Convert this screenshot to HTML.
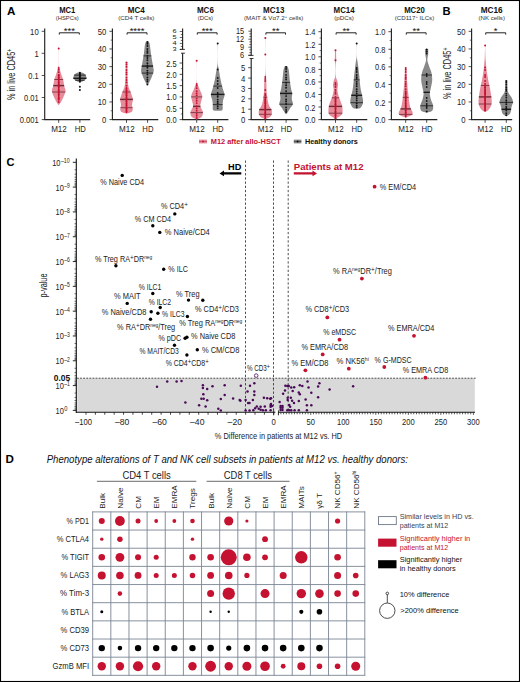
<!DOCTYPE html>
<html><head><meta charset="utf-8"><style>
html,body{margin:0;padding:0;background:#fff;}
svg{display:block;}
text{font-family:"Liberation Sans", sans-serif;}
</style></head><body>
<svg width="520" height="682" viewBox="0 0 520 682" font-family='"Liberation Sans", sans-serif'>
<rect x="0" y="0" width="520" height="682" fill="#fff"/>
<text x="6.9" y="15.1" font-size="11.6" text-anchor="start" fill="#000" font-weight="bold" >A</text>
<text x="442.4" y="15.1" font-size="11.2" text-anchor="start" fill="#000" font-weight="bold" >B</text>
<line x1="44.7" y1="28.5" x2="44.7" y2="120.1" stroke="#222" stroke-width="1.15" />
<line x1="44.2" y1="119.6" x2="90.2" y2="119.6" stroke="#222" stroke-width="1.15" />
<line x1="41.7" y1="31.3" x2="44.7" y2="31.3" stroke="#222" stroke-width="0.8" />
<text x="38.7" y="34.8" font-size="8.4" text-anchor="end" fill="#222" textLength="8.6" lengthAdjust="spacingAndGlyphs" >10</text>
<line x1="41.7" y1="53.3" x2="44.7" y2="53.3" stroke="#222" stroke-width="0.8" />
<text x="38.7" y="56.8" font-size="8.4" text-anchor="end" fill="#222" textLength="4.3" lengthAdjust="spacingAndGlyphs" >1</text>
<line x1="41.7" y1="75.5" x2="44.7" y2="75.5" stroke="#222" stroke-width="0.8" />
<text x="38.7" y="79" font-size="8.4" text-anchor="end" fill="#222" textLength="10.4" lengthAdjust="spacingAndGlyphs" >0.1</text>
<line x1="41.7" y1="97.5" x2="44.7" y2="97.5" stroke="#222" stroke-width="0.8" />
<text x="38.7" y="101" font-size="8.4" text-anchor="end" fill="#222" textLength="14.7" lengthAdjust="spacingAndGlyphs" >0.01</text>
<line x1="41.7" y1="119.6" x2="44.7" y2="119.6" stroke="#222" stroke-width="0.8" />
<text x="38.7" y="123.1" font-size="8.4" text-anchor="end" fill="#222" textLength="19" lengthAdjust="spacingAndGlyphs" >0.001</text>
<line x1="58.7" y1="119.6" x2="58.7" y2="122.8" stroke="#222" stroke-width="0.8" />
<line x1="79.9" y1="119.6" x2="79.9" y2="122.8" stroke="#222" stroke-width="0.8" />
<text x="59" y="131.6" font-size="8.2" text-anchor="middle" fill="#222" textLength="15.7" lengthAdjust="spacingAndGlyphs" >M12</text>
<text x="80.2" y="131.6" font-size="8.2" text-anchor="middle" fill="#222" textLength="11.1" lengthAdjust="spacingAndGlyphs" >HD</text>
<text x="67.3" y="12.7" font-size="8.4" text-anchor="middle" fill="#111" font-weight="bold" textLength="16.2" lengthAdjust="spacingAndGlyphs" >MC1</text>
<text x="67.3" y="19.9" font-size="5.8" text-anchor="middle" fill="#333" textLength="23" lengthAdjust="spacingAndGlyphs" >(HSPCs)</text>
<path d="M59.3,34.6 L59.3,32.8 L79.3,32.8 L79.3,34.6" fill="none" stroke="#222" stroke-width="1.0"/>
<text x="69.3" y="33.6" font-size="9.5" text-anchor="middle" fill="#111" >***</text>
<line x1="112.4" y1="28.5" x2="112.4" y2="120.1" stroke="#222" stroke-width="1.15" />
<line x1="111.9" y1="119.6" x2="158.3" y2="119.6" stroke="#222" stroke-width="1.15" />
<line x1="109.4" y1="119.6" x2="112.4" y2="119.6" stroke="#222" stroke-width="0.8" />
<text x="106.4" y="123.1" font-size="8.4" text-anchor="end" fill="#222" textLength="4.3" lengthAdjust="spacingAndGlyphs" >0</text>
<line x1="109.4" y1="101.94" x2="112.4" y2="101.94" stroke="#222" stroke-width="0.8" />
<text x="106.4" y="105.44" font-size="8.4" text-anchor="end" fill="#222" textLength="8.6" lengthAdjust="spacingAndGlyphs" >10</text>
<line x1="109.4" y1="84.28" x2="112.4" y2="84.28" stroke="#222" stroke-width="0.8" />
<text x="106.4" y="87.78" font-size="8.4" text-anchor="end" fill="#222" textLength="8.6" lengthAdjust="spacingAndGlyphs" >20</text>
<line x1="109.4" y1="66.62" x2="112.4" y2="66.62" stroke="#222" stroke-width="0.8" />
<text x="106.4" y="70.12" font-size="8.4" text-anchor="end" fill="#222" textLength="8.6" lengthAdjust="spacingAndGlyphs" >30</text>
<line x1="109.4" y1="48.96" x2="112.4" y2="48.96" stroke="#222" stroke-width="0.8" />
<text x="106.4" y="52.46" font-size="8.4" text-anchor="end" fill="#222" textLength="8.6" lengthAdjust="spacingAndGlyphs" >40</text>
<line x1="109.4" y1="31.3" x2="112.4" y2="31.3" stroke="#222" stroke-width="0.8" />
<text x="106.4" y="34.8" font-size="8.4" text-anchor="end" fill="#222" textLength="8.6" lengthAdjust="spacingAndGlyphs" >50</text>
<line x1="110.6" y1="110.77" x2="112.4" y2="110.77" stroke="#222" stroke-width="0.6" />
<line x1="110.6" y1="93.11" x2="112.4" y2="93.11" stroke="#222" stroke-width="0.6" />
<line x1="110.6" y1="75.45" x2="112.4" y2="75.45" stroke="#222" stroke-width="0.6" />
<line x1="110.6" y1="57.79" x2="112.4" y2="57.79" stroke="#222" stroke-width="0.6" />
<line x1="110.6" y1="40.13" x2="112.4" y2="40.13" stroke="#222" stroke-width="0.6" />
<line x1="126.5" y1="119.6" x2="126.5" y2="122.8" stroke="#222" stroke-width="0.8" />
<line x1="147.6" y1="119.6" x2="147.6" y2="122.8" stroke="#222" stroke-width="0.8" />
<text x="126.8" y="131.6" font-size="8.2" text-anchor="middle" fill="#222" textLength="15.7" lengthAdjust="spacingAndGlyphs" >M12</text>
<text x="147.9" y="131.6" font-size="8.2" text-anchor="middle" fill="#222" textLength="11.1" lengthAdjust="spacingAndGlyphs" >HD</text>
<text x="136.3" y="12.7" font-size="8.4" text-anchor="middle" fill="#111" font-weight="bold" textLength="17" lengthAdjust="spacingAndGlyphs" >MC4</text>
<text x="136.3" y="19.9" font-size="5.8" text-anchor="middle" fill="#333" textLength="36.2" lengthAdjust="spacingAndGlyphs" >(CD4 T cells)</text>
<path d="M127.1,34.6 L127.1,32.8 L147,32.8 L147,34.6" fill="none" stroke="#222" stroke-width="1.0"/>
<text x="137.05" y="33.6" font-size="9.5" text-anchor="middle" fill="#111" >****</text>
<line x1="182.6" y1="28.5" x2="182.6" y2="120.1" stroke="#222" stroke-width="1.15" />
<line x1="182.1" y1="119.6" x2="228.4" y2="119.6" stroke="#222" stroke-width="1.15" />
<line x1="179.6" y1="119.6" x2="182.6" y2="119.6" stroke="#222" stroke-width="0.8" />
<text x="176.6" y="123.1" font-size="8.4" text-anchor="end" fill="#222" textLength="10.4" lengthAdjust="spacingAndGlyphs" >0.0</text>
<line x1="179.6" y1="108.28" x2="182.6" y2="108.28" stroke="#222" stroke-width="0.8" />
<text x="176.6" y="111.78" font-size="8.4" text-anchor="end" fill="#222" textLength="10.4" lengthAdjust="spacingAndGlyphs" >0.5</text>
<line x1="179.6" y1="96.96" x2="182.6" y2="96.96" stroke="#222" stroke-width="0.8" />
<text x="176.6" y="100.46" font-size="8.4" text-anchor="end" fill="#222" textLength="10.4" lengthAdjust="spacingAndGlyphs" >1.0</text>
<line x1="179.6" y1="85.64" x2="182.6" y2="85.64" stroke="#222" stroke-width="0.8" />
<text x="176.6" y="89.14" font-size="8.4" text-anchor="end" fill="#222" textLength="10.4" lengthAdjust="spacingAndGlyphs" >1.5</text>
<line x1="179.6" y1="74.32" x2="182.6" y2="74.32" stroke="#222" stroke-width="0.8" />
<text x="176.6" y="77.82" font-size="8.4" text-anchor="end" fill="#222" textLength="10.4" lengthAdjust="spacingAndGlyphs" >2.0</text>
<line x1="179.6" y1="63" x2="182.6" y2="63" stroke="#222" stroke-width="0.8" />
<text x="176.6" y="66.5" font-size="8.4" text-anchor="end" fill="#222" textLength="10.4" lengthAdjust="spacingAndGlyphs" >2.5</text>
<line x1="180.8" y1="113.94" x2="182.6" y2="113.94" stroke="#222" stroke-width="0.6" />
<line x1="180.8" y1="102.62" x2="182.6" y2="102.62" stroke="#222" stroke-width="0.6" />
<line x1="180.8" y1="91.3" x2="182.6" y2="91.3" stroke="#222" stroke-width="0.6" />
<line x1="180.8" y1="79.98" x2="182.6" y2="79.98" stroke="#222" stroke-width="0.6" />
<line x1="180.8" y1="68.66" x2="182.6" y2="68.66" stroke="#222" stroke-width="0.6" />
<line x1="196.7" y1="119.6" x2="196.7" y2="122.8" stroke="#222" stroke-width="0.8" />
<line x1="217.7" y1="119.6" x2="217.7" y2="122.8" stroke="#222" stroke-width="0.8" />
<text x="197" y="131.6" font-size="8.2" text-anchor="middle" fill="#222" textLength="15.7" lengthAdjust="spacingAndGlyphs" >M12</text>
<text x="218" y="131.6" font-size="8.2" text-anchor="middle" fill="#222" textLength="11.1" lengthAdjust="spacingAndGlyphs" >HD</text>
<text x="205.4" y="12.7" font-size="8.4" text-anchor="middle" fill="#111" font-weight="bold" textLength="16.9" lengthAdjust="spacingAndGlyphs" >MC6</text>
<text x="205.4" y="19.9" font-size="5.8" text-anchor="middle" fill="#333" textLength="15.4" lengthAdjust="spacingAndGlyphs" >(DCs)</text>
<path d="M197.3,34.6 L197.3,32.8 L217.1,32.8 L217.1,34.6" fill="none" stroke="#222" stroke-width="1.0"/>
<text x="207.2" y="33.6" font-size="9.5" text-anchor="middle" fill="#111" >***</text>
<line x1="251.2" y1="28.5" x2="251.2" y2="120.1" stroke="#222" stroke-width="1.15" />
<line x1="250.7" y1="119.6" x2="298.3" y2="119.6" stroke="#222" stroke-width="1.15" />
<line x1="248.2" y1="119.6" x2="251.2" y2="119.6" stroke="#222" stroke-width="0.8" />
<text x="245.2" y="123.1" font-size="8.4" text-anchor="end" fill="#222" textLength="4.3" lengthAdjust="spacingAndGlyphs" >0</text>
<line x1="248.2" y1="109.22" x2="251.2" y2="109.22" stroke="#222" stroke-width="0.8" />
<text x="245.2" y="112.72" font-size="8.4" text-anchor="end" fill="#222" textLength="4.3" lengthAdjust="spacingAndGlyphs" >1</text>
<line x1="248.2" y1="98.84" x2="251.2" y2="98.84" stroke="#222" stroke-width="0.8" />
<text x="245.2" y="102.34" font-size="8.4" text-anchor="end" fill="#222" textLength="4.3" lengthAdjust="spacingAndGlyphs" >2</text>
<line x1="248.2" y1="88.46" x2="251.2" y2="88.46" stroke="#222" stroke-width="0.8" />
<text x="245.2" y="91.96" font-size="8.4" text-anchor="end" fill="#222" textLength="4.3" lengthAdjust="spacingAndGlyphs" >3</text>
<line x1="248.2" y1="78.08" x2="251.2" y2="78.08" stroke="#222" stroke-width="0.8" />
<text x="245.2" y="81.58" font-size="8.4" text-anchor="end" fill="#222" textLength="4.3" lengthAdjust="spacingAndGlyphs" >4</text>
<line x1="248.2" y1="67.7" x2="251.2" y2="67.7" stroke="#222" stroke-width="0.8" />
<text x="245.2" y="71.2" font-size="8.4" text-anchor="end" fill="#222" textLength="4.3" lengthAdjust="spacingAndGlyphs" >5</text>
<line x1="265.3" y1="119.6" x2="265.3" y2="122.8" stroke="#222" stroke-width="0.8" />
<line x1="286.1" y1="119.6" x2="286.1" y2="122.8" stroke="#222" stroke-width="0.8" />
<text x="265.6" y="131.6" font-size="8.2" text-anchor="middle" fill="#222" textLength="15.7" lengthAdjust="spacingAndGlyphs" >M12</text>
<text x="286.4" y="131.6" font-size="8.2" text-anchor="middle" fill="#222" textLength="11.1" lengthAdjust="spacingAndGlyphs" >HD</text>
<text x="273.7" y="12.7" font-size="8.4" text-anchor="middle" fill="#111" font-weight="bold" textLength="21.3" lengthAdjust="spacingAndGlyphs" >MC13</text>
<text x="273.7" y="19.9" font-size="5.8" text-anchor="middle" fill="#333" textLength="59.3" lengthAdjust="spacingAndGlyphs" >(MAIT &amp; Vα7.2<tspan font-size="4" baseline-shift="super">+</tspan> cells)</text>
<path d="M265.9,34.6 L265.9,32.8 L285.5,32.8 L285.5,34.6" fill="none" stroke="#222" stroke-width="1.0"/>
<text x="275.7" y="33.6" font-size="9.5" text-anchor="middle" fill="#111" >**</text>
<line x1="321.4" y1="28.5" x2="321.4" y2="120.1" stroke="#222" stroke-width="1.15" />
<line x1="320.9" y1="119.6" x2="367.3" y2="119.6" stroke="#222" stroke-width="1.15" />
<line x1="318.4" y1="119.6" x2="321.4" y2="119.6" stroke="#222" stroke-width="0.8" />
<text x="315.4" y="123.1" font-size="8.4" text-anchor="end" fill="#222" textLength="10.4" lengthAdjust="spacingAndGlyphs" >0.0</text>
<line x1="318.4" y1="107.04" x2="321.4" y2="107.04" stroke="#222" stroke-width="0.8" />
<text x="315.4" y="110.54" font-size="8.4" text-anchor="end" fill="#222" textLength="10.4" lengthAdjust="spacingAndGlyphs" >0.2</text>
<line x1="318.4" y1="94.49" x2="321.4" y2="94.49" stroke="#222" stroke-width="0.8" />
<text x="315.4" y="97.99" font-size="8.4" text-anchor="end" fill="#222" textLength="10.4" lengthAdjust="spacingAndGlyphs" >0.4</text>
<line x1="318.4" y1="81.93" x2="321.4" y2="81.93" stroke="#222" stroke-width="0.8" />
<text x="315.4" y="85.43" font-size="8.4" text-anchor="end" fill="#222" textLength="10.4" lengthAdjust="spacingAndGlyphs" >0.6</text>
<line x1="318.4" y1="69.37" x2="321.4" y2="69.37" stroke="#222" stroke-width="0.8" />
<text x="315.4" y="72.87" font-size="8.4" text-anchor="end" fill="#222" textLength="10.4" lengthAdjust="spacingAndGlyphs" >0.8</text>
<line x1="318.4" y1="56.81" x2="321.4" y2="56.81" stroke="#222" stroke-width="0.8" />
<text x="315.4" y="60.31" font-size="8.4" text-anchor="end" fill="#222" textLength="10.4" lengthAdjust="spacingAndGlyphs" >1.0</text>
<line x1="318.4" y1="44.26" x2="321.4" y2="44.26" stroke="#222" stroke-width="0.8" />
<text x="315.4" y="47.76" font-size="8.4" text-anchor="end" fill="#222" textLength="10.4" lengthAdjust="spacingAndGlyphs" >1.2</text>
<line x1="318.4" y1="31.7" x2="321.4" y2="31.7" stroke="#222" stroke-width="0.8" />
<text x="315.4" y="35.2" font-size="8.4" text-anchor="end" fill="#222" textLength="10.4" lengthAdjust="spacingAndGlyphs" >1.4</text>
<line x1="319.6" y1="113.32" x2="321.4" y2="113.32" stroke="#222" stroke-width="0.6" />
<line x1="319.6" y1="100.76" x2="321.4" y2="100.76" stroke="#222" stroke-width="0.6" />
<line x1="319.6" y1="88.21" x2="321.4" y2="88.21" stroke="#222" stroke-width="0.6" />
<line x1="319.6" y1="75.65" x2="321.4" y2="75.65" stroke="#222" stroke-width="0.6" />
<line x1="319.6" y1="63.09" x2="321.4" y2="63.09" stroke="#222" stroke-width="0.6" />
<line x1="319.6" y1="50.54" x2="321.4" y2="50.54" stroke="#222" stroke-width="0.6" />
<line x1="319.6" y1="37.98" x2="321.4" y2="37.98" stroke="#222" stroke-width="0.6" />
<line x1="335.5" y1="119.6" x2="335.5" y2="122.8" stroke="#222" stroke-width="0.8" />
<line x1="356.7" y1="119.6" x2="356.7" y2="122.8" stroke="#222" stroke-width="0.8" />
<text x="335.8" y="131.6" font-size="8.2" text-anchor="middle" fill="#222" textLength="15.7" lengthAdjust="spacingAndGlyphs" >M12</text>
<text x="357" y="131.6" font-size="8.2" text-anchor="middle" fill="#222" textLength="11.1" lengthAdjust="spacingAndGlyphs" >HD</text>
<text x="344.1" y="12.7" font-size="8.4" text-anchor="middle" fill="#111" font-weight="bold" textLength="21.1" lengthAdjust="spacingAndGlyphs" >MC14</text>
<text x="344.1" y="19.9" font-size="5.8" text-anchor="middle" fill="#333" textLength="19.6" lengthAdjust="spacingAndGlyphs" >(pDCs)</text>
<path d="M336.1,34.6 L336.1,32.8 L356.1,32.8 L356.1,34.6" fill="none" stroke="#222" stroke-width="1.0"/>
<text x="346.1" y="33.6" font-size="9.5" text-anchor="middle" fill="#111" >**</text>
<line x1="391.4" y1="28.5" x2="391.4" y2="120.1" stroke="#222" stroke-width="1.15" />
<line x1="390.9" y1="119.6" x2="437.3" y2="119.6" stroke="#222" stroke-width="1.15" />
<line x1="388.4" y1="119.6" x2="391.4" y2="119.6" stroke="#222" stroke-width="0.8" />
<text x="385.4" y="123.1" font-size="8.4" text-anchor="end" fill="#222" textLength="10.4" lengthAdjust="spacingAndGlyphs" >0.0</text>
<line x1="388.4" y1="102.02" x2="391.4" y2="102.02" stroke="#222" stroke-width="0.8" />
<text x="385.4" y="105.52" font-size="8.4" text-anchor="end" fill="#222" textLength="10.4" lengthAdjust="spacingAndGlyphs" >0.2</text>
<line x1="388.4" y1="84.44" x2="391.4" y2="84.44" stroke="#222" stroke-width="0.8" />
<text x="385.4" y="87.94" font-size="8.4" text-anchor="end" fill="#222" textLength="10.4" lengthAdjust="spacingAndGlyphs" >0.4</text>
<line x1="388.4" y1="66.86" x2="391.4" y2="66.86" stroke="#222" stroke-width="0.8" />
<text x="385.4" y="70.36" font-size="8.4" text-anchor="end" fill="#222" textLength="10.4" lengthAdjust="spacingAndGlyphs" >0.6</text>
<line x1="388.4" y1="49.28" x2="391.4" y2="49.28" stroke="#222" stroke-width="0.8" />
<text x="385.4" y="52.78" font-size="8.4" text-anchor="end" fill="#222" textLength="10.4" lengthAdjust="spacingAndGlyphs" >0.8</text>
<line x1="388.4" y1="31.7" x2="391.4" y2="31.7" stroke="#222" stroke-width="0.8" />
<text x="385.4" y="35.2" font-size="8.4" text-anchor="end" fill="#222" textLength="10.4" lengthAdjust="spacingAndGlyphs" >1.0</text>
<line x1="389.6" y1="110.81" x2="391.4" y2="110.81" stroke="#222" stroke-width="0.6" />
<line x1="389.6" y1="93.23" x2="391.4" y2="93.23" stroke="#222" stroke-width="0.6" />
<line x1="389.6" y1="75.65" x2="391.4" y2="75.65" stroke="#222" stroke-width="0.6" />
<line x1="389.6" y1="58.07" x2="391.4" y2="58.07" stroke="#222" stroke-width="0.6" />
<line x1="389.6" y1="40.49" x2="391.4" y2="40.49" stroke="#222" stroke-width="0.6" />
<line x1="405.7" y1="119.6" x2="405.7" y2="122.8" stroke="#222" stroke-width="0.8" />
<line x1="426.7" y1="119.6" x2="426.7" y2="122.8" stroke="#222" stroke-width="0.8" />
<text x="406" y="131.6" font-size="8.2" text-anchor="middle" fill="#222" textLength="15.7" lengthAdjust="spacingAndGlyphs" >M12</text>
<text x="427" y="131.6" font-size="8.2" text-anchor="middle" fill="#222" textLength="11.1" lengthAdjust="spacingAndGlyphs" >HD</text>
<text x="414.5" y="12.7" font-size="8.4" text-anchor="middle" fill="#111" font-weight="bold" textLength="20.6" lengthAdjust="spacingAndGlyphs" >MC20</text>
<text x="414.5" y="19.9" font-size="5.8" text-anchor="middle" fill="#333" textLength="39.4" lengthAdjust="spacingAndGlyphs" >(CD117<tspan font-size="4" baseline-shift="super">+</tspan> ILCs)</text>
<path d="M406.3,34.6 L406.3,32.8 L426.1,32.8 L426.1,34.6" fill="none" stroke="#222" stroke-width="1.0"/>
<text x="416.2" y="33.6" font-size="9.5" text-anchor="middle" fill="#111" >**</text>
<line x1="471.6" y1="28.5" x2="471.6" y2="120.1" stroke="#222" stroke-width="1.15" />
<line x1="471.1" y1="119.6" x2="512.2" y2="119.6" stroke="#222" stroke-width="1.15" />
<line x1="468.6" y1="119.6" x2="471.6" y2="119.6" stroke="#222" stroke-width="0.8" />
<text x="465.6" y="123.1" font-size="8.4" text-anchor="end" fill="#222" textLength="4.3" lengthAdjust="spacingAndGlyphs" >0</text>
<line x1="468.6" y1="101.94" x2="471.6" y2="101.94" stroke="#222" stroke-width="0.8" />
<text x="465.6" y="105.44" font-size="8.4" text-anchor="end" fill="#222" textLength="8.6" lengthAdjust="spacingAndGlyphs" >10</text>
<line x1="468.6" y1="84.28" x2="471.6" y2="84.28" stroke="#222" stroke-width="0.8" />
<text x="465.6" y="87.78" font-size="8.4" text-anchor="end" fill="#222" textLength="8.6" lengthAdjust="spacingAndGlyphs" >20</text>
<line x1="468.6" y1="66.62" x2="471.6" y2="66.62" stroke="#222" stroke-width="0.8" />
<text x="465.6" y="70.12" font-size="8.4" text-anchor="end" fill="#222" textLength="8.6" lengthAdjust="spacingAndGlyphs" >30</text>
<line x1="468.6" y1="48.96" x2="471.6" y2="48.96" stroke="#222" stroke-width="0.8" />
<text x="465.6" y="52.46" font-size="8.4" text-anchor="end" fill="#222" textLength="8.6" lengthAdjust="spacingAndGlyphs" >40</text>
<line x1="468.6" y1="31.3" x2="471.6" y2="31.3" stroke="#222" stroke-width="0.8" />
<text x="465.6" y="34.8" font-size="8.4" text-anchor="end" fill="#222" textLength="8.6" lengthAdjust="spacingAndGlyphs" >50</text>
<line x1="469.8" y1="110.77" x2="471.6" y2="110.77" stroke="#222" stroke-width="0.6" />
<line x1="469.8" y1="93.11" x2="471.6" y2="93.11" stroke="#222" stroke-width="0.6" />
<line x1="469.8" y1="75.45" x2="471.6" y2="75.45" stroke="#222" stroke-width="0.6" />
<line x1="469.8" y1="57.79" x2="471.6" y2="57.79" stroke="#222" stroke-width="0.6" />
<line x1="469.8" y1="40.13" x2="471.6" y2="40.13" stroke="#222" stroke-width="0.6" />
<line x1="485.1" y1="119.6" x2="485.1" y2="122.8" stroke="#222" stroke-width="0.8" />
<line x1="506.3" y1="119.6" x2="506.3" y2="122.8" stroke="#222" stroke-width="0.8" />
<text x="485.4" y="131.6" font-size="8.2" text-anchor="middle" fill="#222" textLength="15.7" lengthAdjust="spacingAndGlyphs" >M12</text>
<text x="506.6" y="131.6" font-size="8.2" text-anchor="middle" fill="#222" textLength="11.1" lengthAdjust="spacingAndGlyphs" >HD</text>
<text x="491.7" y="12.7" font-size="8.4" text-anchor="middle" fill="#111" font-weight="bold" textLength="21.9" lengthAdjust="spacingAndGlyphs" >MC16</text>
<text x="491.7" y="19.9" font-size="5.8" text-anchor="middle" fill="#333" textLength="26.5" lengthAdjust="spacingAndGlyphs" >(NK cells)</text>
<path d="M485.7,34.6 L485.7,32.8 L505.7,32.8 L505.7,34.6" fill="none" stroke="#222" stroke-width="1.0"/>
<text x="495.7" y="33.6" font-size="9.5" text-anchor="middle" fill="#111" >*</text>
<text transform="translate(14.8,74.4) rotate(-90)" font-size="10" text-anchor="middle" fill="#222" textLength="51.3" lengthAdjust="spacingAndGlyphs">% in live CD45<tspan font-size="7" baseline-shift="super">+</tspan></text>
<text transform="translate(450.8,73.3) rotate(-90)" font-size="10" text-anchor="middle" fill="#222" textLength="51.5" lengthAdjust="spacingAndGlyphs">% in live CD45<tspan font-size="7" baseline-shift="super">+</tspan></text>
<rect x="180.6" y="49.4" width="4" height="3.8" fill="#fff"/>
<line x1="179.8" y1="49.4" x2="184.9" y2="49.4" stroke="#222" stroke-width="0.9" />
<line x1="181" y1="53.2" x2="184.9" y2="53.2" stroke="#222" stroke-width="0.9" />
<line x1="179.8" y1="31.5" x2="182.6" y2="31.5" stroke="#222" stroke-width="0.7" />
<text transform="translate(176.6,33.25) scale(1,0.68)" font-size="7.4" text-anchor="end" fill="#222">6</text>
<line x1="180.8" y1="34.48" x2="182.6" y2="34.48" stroke="#222" stroke-width="0.7" />
<line x1="179.8" y1="37.47" x2="182.6" y2="37.47" stroke="#222" stroke-width="0.7" />
<text transform="translate(176.6,39.22) scale(1,0.68)" font-size="7.4" text-anchor="end" fill="#222">5</text>
<line x1="180.8" y1="40.45" x2="182.6" y2="40.45" stroke="#222" stroke-width="0.7" />
<line x1="179.8" y1="43.43" x2="182.6" y2="43.43" stroke="#222" stroke-width="0.7" />
<text transform="translate(176.6,45.18) scale(1,0.68)" font-size="7.4" text-anchor="end" fill="#222">4</text>
<line x1="180.8" y1="46.42" x2="182.6" y2="46.42" stroke="#222" stroke-width="0.7" />
<line x1="179.8" y1="49.4" x2="182.6" y2="49.4" stroke="#222" stroke-width="0.7" />
<text transform="translate(176.6,51.15) scale(1,0.68)" font-size="7.4" text-anchor="end" fill="#222">3</text>
<rect x="249.2" y="55.4" width="4" height="3.1" fill="#fff"/>
<line x1="248.4" y1="55.4" x2="253.5" y2="55.4" stroke="#222" stroke-width="0.9" />
<line x1="249.6" y1="58.5" x2="253.5" y2="58.5" stroke="#222" stroke-width="0.9" />
<line x1="248.4" y1="31.2" x2="251.2" y2="31.2" stroke="#222" stroke-width="0.7" />
<text x="244.1" y="33.9" font-size="8.4" text-anchor="end" fill="#222" textLength="8.2" lengthAdjust="spacingAndGlyphs" >15</text>
<line x1="249.4" y1="33.87" x2="251.2" y2="33.87" stroke="#222" stroke-width="0.7" />
<line x1="249.4" y1="36.53" x2="251.2" y2="36.53" stroke="#222" stroke-width="0.7" />
<line x1="248.4" y1="39.2" x2="251.2" y2="39.2" stroke="#222" stroke-width="0.7" />
<text x="244.1" y="41.9" font-size="8.4" text-anchor="end" fill="#222" textLength="8.2" lengthAdjust="spacingAndGlyphs" >12</text>
<line x1="249.4" y1="41.87" x2="251.2" y2="41.87" stroke="#222" stroke-width="0.7" />
<line x1="249.4" y1="44.53" x2="251.2" y2="44.53" stroke="#222" stroke-width="0.7" />
<line x1="248.4" y1="47.2" x2="251.2" y2="47.2" stroke="#222" stroke-width="0.7" />
<text x="244.1" y="49.9" font-size="8.4" text-anchor="end" fill="#222" textLength="4.1" lengthAdjust="spacingAndGlyphs" >9</text>
<line x1="249.4" y1="49.87" x2="251.2" y2="49.87" stroke="#222" stroke-width="0.7" />
<line x1="249.4" y1="52.53" x2="251.2" y2="52.53" stroke="#222" stroke-width="0.7" />
<line x1="248.4" y1="55.2" x2="251.2" y2="55.2" stroke="#222" stroke-width="0.7" />
<text x="244.1" y="57.9" font-size="8.4" text-anchor="end" fill="#222" textLength="4.1" lengthAdjust="spacingAndGlyphs" >6</text>
<path d="M58.1,48.5 L58.16,48.51 L58.24,48.39 L58.34,48.31 L58.44,48.44 L58.52,48.95 L58.58,50 L58.61,51.87 L58.63,54.48 L58.63,57.47 L58.63,60.46 L58.61,63.1 L58.58,65 L58.55,66.05 L58.52,66.5 L58.48,66.59 L58.42,66.56 L58.33,66.61 L58.2,67 L58.03,67.69 L57.82,68.5 L57.58,69.41 L57.32,70.39 L57.02,71.43 L56.7,72.5 L56.32,73.65 L55.89,74.91 L55.42,76.22 L54.96,77.54 L54.54,78.81 L54.2,80 L53.95,81.1 L53.77,82.15 L53.62,83.16 L53.5,84.13 L53.37,85.08 L53.2,86 L52.96,86.87 L52.66,87.69 L52.34,88.47 L52.08,89.26 L51.91,90.09 L51.9,91 L52.07,92.01 L52.39,93.11 L52.81,94.25 L53.29,95.39 L53.76,96.49 L54.2,97.5 L54.61,98.45 L55.04,99.36 L55.47,100.24 L55.9,101.06 L56.31,101.82 L56.7,102.5 L57.09,103.11 L57.48,103.67 L57.86,104.16 L58.2,104.59 L58.49,104.93 L58.7,105.2 L58.7,105.2 L58.91,104.93 L59.2,104.59 L59.54,104.16 L59.92,103.67 L60.31,103.11 L60.7,102.5 L61.09,101.82 L61.5,101.06 L61.93,100.24 L62.36,99.36 L62.79,98.45 L63.2,97.5 L63.64,96.49 L64.11,95.39 L64.59,94.25 L65.01,93.11 L65.33,92.01 L65.5,91 L65.49,90.09 L65.32,89.26 L65.06,88.47 L64.74,87.69 L64.44,86.87 L64.2,86 L64.03,85.08 L63.9,84.13 L63.78,83.16 L63.63,82.15 L63.45,81.1 L63.2,80 L62.86,78.81 L62.44,77.54 L61.98,76.22 L61.51,74.91 L61.08,73.65 L60.7,72.5 L60.38,71.43 L60.08,70.39 L59.82,69.41 L59.58,68.5 L59.37,67.69 L59.2,67 L59.07,66.61 L58.98,66.56 L58.92,66.59 L58.88,66.5 L58.85,66.05 L58.82,65 L58.79,63.1 L58.77,60.46 L58.77,57.47 L58.77,54.48 L58.79,51.87 L58.82,50 L58.88,48.95 L58.96,48.44 L59.06,48.31 L59.16,48.39 L59.24,48.51 L59.3,48.5 Z" fill="#e68b9a"/>
<line x1="54.2" y1="79.5" x2="63.2" y2="79.5" stroke="#6b2a33" stroke-width="0.8" />
<line x1="53.2" y1="85.6" x2="64.2" y2="85.6" stroke="#6b2a33" stroke-width="1.4" />
<line x1="52.07" y1="92" x2="65.33" y2="92" stroke="#6b2a33" stroke-width="0.8" />
<line x1="58.7" y1="74" x2="58.7" y2="100" stroke="#c41230" stroke-width="1.5" />
<circle cx="58.7" cy="48.5" r="1" fill="#c41230" />
<circle cx="58.7" cy="68" r="0.95" fill="#c41230" />
<circle cx="58.7" cy="69.84" r="0.95" fill="#c41230" />
<circle cx="58.7" cy="72.14" r="0.95" fill="#c41230" />
<circle cx="58.7" cy="75.25" r="0.95" fill="#c41230" />
<circle cx="58.7" cy="77.55" r="0.95" fill="#c41230" />
<circle cx="58.7" cy="79.39" r="0.95" fill="#c41230" />
<circle cx="58.7" cy="82.49" r="0.95" fill="#c41230" />
<circle cx="58.7" cy="84.79" r="0.95" fill="#c41230" />
<circle cx="58.7" cy="87.09" r="0.95" fill="#c41230" />
<circle cx="58.7" cy="90.2" r="0.95" fill="#c41230" />
<circle cx="58.7" cy="92.5" r="0.95" fill="#c41230" />
<circle cx="58.7" cy="94.8" r="0.95" fill="#c41230" />
<circle cx="58.7" cy="97.9" r="0.95" fill="#c41230" />
<circle cx="58.7" cy="99.74" r="0.95" fill="#c41230" />
<circle cx="58.7" cy="102.04" r="0.95" fill="#c41230" />
<path d="M79.9,72.2 L79.68,72.24 L79.39,72.29 L79.04,72.34 L78.66,72.41 L78.27,72.5 L77.9,72.6 L77.54,72.71 L77.16,72.84 L76.78,72.98 L76.4,73.14 L76.03,73.31 L75.7,73.5 L75.39,73.71 L75.09,73.94 L74.8,74.18 L74.54,74.44 L74.3,74.71 L74.1,75 L73.94,75.31 L73.81,75.65 L73.71,76 L73.63,76.35 L73.56,76.69 L73.5,77 L73.44,77.28 L73.37,77.54 L73.32,77.78 L73.3,78.02 L73.32,78.26 L73.4,78.5 L73.55,78.75 L73.76,79.01 L74.02,79.26 L74.3,79.51 L74.6,79.76 L74.9,80 L75.19,80.23 L75.49,80.46 L75.81,80.69 L76.14,80.9 L76.5,81.11 L76.9,81.3 L77.38,81.48 L77.94,81.66 L78.53,81.83 L79.09,81.98 L79.56,82.11 L79.9,82.2 L79.9,82.2 L80.24,82.11 L80.71,81.98 L81.28,81.83 L81.86,81.66 L82.42,81.48 L82.9,81.3 L83.3,81.11 L83.66,80.9 L83.99,80.69 L84.31,80.46 L84.61,80.23 L84.9,80 L85.2,79.76 L85.5,79.51 L85.78,79.26 L86.04,79.01 L86.25,78.75 L86.4,78.5 L86.48,78.26 L86.5,78.02 L86.48,77.78 L86.43,77.54 L86.36,77.28 L86.3,77 L86.24,76.69 L86.17,76.35 L86.09,76 L85.99,75.65 L85.86,75.31 L85.7,75 L85.5,74.71 L85.26,74.44 L85,74.18 L84.71,73.94 L84.41,73.71 L84.1,73.5 L83.77,73.31 L83.4,73.14 L83.03,72.98 L82.64,72.84 L82.26,72.71 L81.9,72.6 L81.53,72.5 L81.14,72.41 L80.76,72.34 L80.41,72.29 L80.12,72.24 L79.9,72.2 Z" fill="#888888"/>
<line x1="74.1" y1="75.1" x2="85.7" y2="75.1" stroke="#1a1a1a" stroke-width="0.8" />
<line x1="73.32" y1="78.3" x2="86.48" y2="78.3" stroke="#1a1a1a" stroke-width="1.4" />
<line x1="75.19" y1="80.3" x2="84.61" y2="80.3" stroke="#1a1a1a" stroke-width="0.8" />
<circle cx="79.9" cy="72.8" r="1" fill="#111" />
<circle cx="79.9" cy="73.8" r="1" fill="#111" />
<circle cx="79.9" cy="74.8" r="1" fill="#111" />
<circle cx="79.9" cy="75.8" r="1" fill="#111" />
<circle cx="79.9" cy="76.8" r="1" fill="#111" />
<circle cx="79.9" cy="77.8" r="1" fill="#111" />
<circle cx="79.9" cy="78.8" r="1" fill="#111" />
<circle cx="79.9" cy="79.8" r="1" fill="#111" />
<circle cx="79.9" cy="80.8" r="1" fill="#111" />
<circle cx="79.9" cy="81.8" r="1" fill="#111" />
<circle cx="79.9" cy="86.7" r="1" fill="#111" />
<circle cx="79.9" cy="89.9" r="1" fill="#111" />
<path d="M125.6,62 L125.59,62.86 L125.57,64.05 L125.56,65.46 L125.54,66.99 L125.52,68.53 L125.5,70 L125.49,71.42 L125.49,72.9 L125.49,74.39 L125.48,75.87 L125.45,77.32 L125.4,78.7 L125.33,80.04 L125.24,81.36 L125.13,82.64 L125.01,83.87 L124.85,85.03 L124.65,86.1 L124.4,87.06 L124.11,87.91 L123.79,88.7 L123.45,89.45 L123.12,90.21 L122.8,91 L122.49,91.84 L122.16,92.71 L121.84,93.57 L121.53,94.43 L121.25,95.24 L121,96 L120.78,96.68 L120.57,97.29 L120.38,97.86 L120.23,98.43 L120.14,99.03 L120.1,99.7 L120.16,100.45 L120.33,101.24 L120.54,102.07 L120.75,102.92 L120.92,103.77 L121,104.6 L120.95,105.44 L120.81,106.32 L120.62,107.2 L120.44,108.04 L120.32,108.82 L120.3,109.5 L120.36,110.06 L120.45,110.54 L120.6,110.94 L120.83,111.31 L121.15,111.65 L121.6,112 L122.27,112.36 L123.15,112.72 L124.13,113.06 L125.1,113.36 L125.93,113.61 L126.5,113.8 L126.5,113.8 L127.07,113.61 L127.9,113.36 L128.87,113.06 L129.85,112.72 L130.73,112.36 L131.4,112 L131.85,111.65 L132.17,111.31 L132.4,110.94 L132.55,110.54 L132.64,110.06 L132.7,109.5 L132.68,108.82 L132.56,108.04 L132.38,107.2 L132.19,106.32 L132.05,105.44 L132,104.6 L132.08,103.77 L132.25,102.92 L132.46,102.07 L132.67,101.24 L132.84,100.45 L132.9,99.7 L132.86,99.03 L132.77,98.43 L132.62,97.86 L132.43,97.29 L132.22,96.68 L132,96 L131.75,95.24 L131.47,94.43 L131.16,93.57 L130.84,92.71 L130.51,91.84 L130.2,91 L129.88,90.21 L129.55,89.45 L129.21,88.7 L128.89,87.91 L128.6,87.06 L128.35,86.1 L128.15,85.03 L127.99,83.87 L127.87,82.64 L127.76,81.36 L127.67,80.04 L127.6,78.7 L127.55,77.32 L127.52,75.87 L127.51,74.39 L127.51,72.9 L127.51,71.42 L127.5,70 L127.48,68.53 L127.46,66.99 L127.44,65.46 L127.43,64.05 L127.41,62.86 L127.4,62 Z" fill="#e68b9a"/>
<line x1="122.49" y1="92" x2="130.51" y2="92" stroke="#6b2a33" stroke-width="0.8" />
<line x1="120.1" y1="99.4" x2="132.9" y2="99.4" stroke="#6b2a33" stroke-width="1.4" />
<line x1="120.44" y1="107.7" x2="132.56" y2="107.7" stroke="#6b2a33" stroke-width="0.8" />
<line x1="126.5" y1="88" x2="126.5" y2="113" stroke="#c41230" stroke-width="1.5" />
<circle cx="126.5" cy="62.5" r="0.95" fill="#c41230" />
<circle cx="126.5" cy="64.42" r="0.95" fill="#c41230" />
<circle cx="126.5" cy="66.82" r="0.95" fill="#c41230" />
<circle cx="126.5" cy="70.06" r="0.95" fill="#c41230" />
<circle cx="126.5" cy="72.46" r="0.95" fill="#c41230" />
<circle cx="126.5" cy="74.38" r="0.95" fill="#c41230" />
<circle cx="126.5" cy="77.62" r="0.95" fill="#c41230" />
<circle cx="126.5" cy="80.02" r="0.95" fill="#c41230" />
<circle cx="126.5" cy="82.42" r="0.95" fill="#c41230" />
<circle cx="126.5" cy="85.66" r="0.95" fill="#c41230" />
<circle cx="126.5" cy="88.06" r="0.95" fill="#c41230" />
<circle cx="126.5" cy="90.46" r="0.95" fill="#c41230" />
<circle cx="126.5" cy="93.7" r="0.95" fill="#c41230" />
<circle cx="126.5" cy="95.62" r="0.95" fill="#c41230" />
<circle cx="126.5" cy="98.02" r="0.95" fill="#c41230" />
<circle cx="126.5" cy="101.26" r="0.95" fill="#c41230" />
<circle cx="126.5" cy="103.66" r="0.95" fill="#c41230" />
<circle cx="126.5" cy="105.58" r="0.95" fill="#c41230" />
<circle cx="126.5" cy="108.82" r="0.95" fill="#c41230" />
<circle cx="126.5" cy="111.22" r="0.95" fill="#c41230" />
<path d="M146.6,41.3 L146.49,41.41 L146.33,41.53 L146.15,41.69 L145.96,41.9 L145.77,42.16 L145.6,42.5 L145.46,42.89 L145.32,43.31 L145.19,43.79 L145.06,44.36 L144.93,45.02 L144.8,45.8 L144.67,46.74 L144.54,47.83 L144.42,49.02 L144.29,50.27 L144.15,51.51 L144,52.7 L143.84,53.85 L143.66,55 L143.47,56.15 L143.29,57.3 L143.09,58.45 L142.9,59.6 L142.7,60.78 L142.49,61.99 L142.27,63.2 L142.06,64.38 L141.87,65.49 L141.7,66.5 L141.54,67.39 L141.38,68.17 L141.23,68.88 L141.12,69.57 L141.07,70.26 L141.1,71 L141.22,71.78 L141.43,72.59 L141.69,73.39 L141.99,74.2 L142.3,75.01 L142.6,75.8 L142.91,76.59 L143.24,77.39 L143.58,78.18 L143.93,78.95 L144.27,79.69 L144.6,80.4 L144.92,81.09 L145.24,81.77 L145.56,82.42 L145.87,83.02 L146.15,83.56 L146.4,84 L146.62,84.34 L146.83,84.59 L147.01,84.78 L147.17,84.91 L147.3,85.01 L147.4,85.1 L147.4,85.1 L147.5,85.01 L147.63,84.91 L147.79,84.78 L147.97,84.59 L148.18,84.34 L148.4,84 L148.65,83.56 L148.93,83.02 L149.24,82.42 L149.56,81.77 L149.88,81.09 L150.2,80.4 L150.53,79.69 L150.87,78.95 L151.22,78.18 L151.56,77.39 L151.89,76.59 L152.2,75.8 L152.5,75.01 L152.81,74.2 L153.11,73.39 L153.37,72.59 L153.58,71.78 L153.7,71 L153.73,70.26 L153.68,69.57 L153.57,68.88 L153.42,68.17 L153.26,67.39 L153.1,66.5 L152.93,65.49 L152.74,64.38 L152.53,63.2 L152.31,61.99 L152.1,60.78 L151.9,59.6 L151.71,58.45 L151.51,57.3 L151.33,56.15 L151.14,55 L150.96,53.85 L150.8,52.7 L150.65,51.51 L150.51,50.27 L150.38,49.02 L150.26,47.83 L150.13,46.74 L150,45.8 L149.87,45.02 L149.74,44.36 L149.61,43.79 L149.48,43.31 L149.34,42.89 L149.2,42.5 L149.03,42.16 L148.84,41.9 L148.65,41.69 L148.47,41.53 L148.31,41.41 L148.2,41.3 Z" fill="#888888"/>
<line x1="143.47" y1="55.9" x2="151.33" y2="55.9" stroke="#1a1a1a" stroke-width="0.8" />
<line x1="141.7" y1="66.1" x2="153.1" y2="66.1" stroke="#1a1a1a" stroke-width="1.4" />
<line x1="141.69" y1="73.1" x2="153.11" y2="73.1" stroke="#1a1a1a" stroke-width="0.8" />
<circle cx="147.4" cy="42" r="0.95" fill="#111" />
<circle cx="147.4" cy="43.76" r="0.95" fill="#111" />
<circle cx="147.4" cy="45.96" r="0.95" fill="#111" />
<circle cx="147.4" cy="48.93" r="0.95" fill="#111" />
<circle cx="147.4" cy="51.13" r="0.95" fill="#111" />
<circle cx="147.4" cy="52.89" r="0.95" fill="#111" />
<circle cx="147.4" cy="55.86" r="0.95" fill="#111" />
<circle cx="147.4" cy="58.06" r="0.95" fill="#111" />
<circle cx="147.4" cy="60.26" r="0.95" fill="#111" />
<circle cx="147.4" cy="63.23" r="0.95" fill="#111" />
<circle cx="147.4" cy="65.43" r="0.95" fill="#111" />
<circle cx="147.4" cy="67.63" r="0.95" fill="#111" />
<circle cx="147.4" cy="70.6" r="0.95" fill="#111" />
<circle cx="147.4" cy="72.36" r="0.95" fill="#111" />
<circle cx="147.4" cy="74.56" r="0.95" fill="#111" />
<circle cx="147.4" cy="77.53" r="0.95" fill="#111" />
<circle cx="147.4" cy="79.73" r="0.95" fill="#111" />
<circle cx="147.4" cy="81.49" r="0.95" fill="#111" />
<circle cx="147.4" cy="84.46" r="0.95" fill="#111" />
<path d="M196.1,60.8 L196.16,60.72 L196.24,60.44 L196.34,60.2 L196.44,60.22 L196.52,60.74 L196.58,62 L196.62,64.34 L196.66,67.64 L196.68,71.44 L196.68,75.28 L196.65,78.69 L196.58,81.2 L196.47,82.7 L196.33,83.54 L196.16,83.94 L195.96,84.15 L195.74,84.39 L195.5,84.9 L195.24,85.63 L194.95,86.4 L194.63,87.19 L194.3,88.03 L193.96,88.89 L193.6,89.8 L193.19,90.76 L192.7,91.77 L192.21,92.82 L191.75,93.89 L191.4,94.96 L191.2,96 L191.2,97.04 L191.36,98.11 L191.61,99.17 L191.91,100.2 L192.19,101.19 L192.4,102.1 L192.57,102.91 L192.76,103.62 L192.93,104.28 L193.05,104.94 L193.09,105.63 L193,106.4 L192.72,107.27 L192.26,108.2 L191.71,109.16 L191.17,110.14 L190.73,111.09 L190.5,112 L190.46,112.88 L190.52,113.77 L190.69,114.64 L190.96,115.47 L191.33,116.23 L191.8,116.9 L192.47,117.48 L193.35,118 L194.33,118.46 L195.3,118.84 L196.13,119.16 L196.7,119.4 L196.7,119.4 L197.27,119.16 L198.1,118.84 L199.07,118.46 L200.05,118 L200.93,117.48 L201.6,116.9 L202.07,116.23 L202.44,115.47 L202.71,114.64 L202.88,113.77 L202.94,112.88 L202.9,112 L202.67,111.09 L202.23,110.14 L201.69,109.16 L201.14,108.2 L200.68,107.27 L200.4,106.4 L200.31,105.63 L200.35,104.94 L200.47,104.28 L200.64,103.62 L200.83,102.91 L201,102.1 L201.21,101.19 L201.49,100.2 L201.79,99.17 L202.04,98.11 L202.2,97.04 L202.2,96 L202,94.96 L201.65,93.89 L201.19,92.82 L200.7,91.77 L200.21,90.76 L199.8,89.8 L199.44,88.89 L199.1,88.03 L198.77,87.19 L198.45,86.4 L198.16,85.63 L197.9,84.9 L197.66,84.39 L197.44,84.15 L197.24,83.94 L197.07,83.54 L196.93,82.7 L196.82,81.2 L196.75,78.69 L196.72,75.28 L196.72,71.44 L196.74,67.64 L196.78,64.34 L196.82,62 L196.88,60.74 L196.96,60.22 L197.06,60.2 L197.16,60.44 L197.24,60.72 L197.3,60.8 Z" fill="#e68b9a"/>
<line x1="191.2" y1="96.9" x2="202.2" y2="96.9" stroke="#6b2a33" stroke-width="0.8" />
<line x1="193" y1="106.4" x2="200.4" y2="106.4" stroke="#6b2a33" stroke-width="1.4" />
<line x1="190.46" y1="112.6" x2="202.94" y2="112.6" stroke="#6b2a33" stroke-width="0.8" />
<circle cx="196.7" cy="60.8" r="1" fill="#c41230" />
<circle cx="196.7" cy="84" r="0.95" fill="#c41230" />
<circle cx="196.7" cy="85.84" r="0.95" fill="#c41230" />
<circle cx="196.7" cy="88.14" r="0.95" fill="#c41230" />
<circle cx="196.7" cy="91.25" r="0.95" fill="#c41230" />
<circle cx="196.7" cy="93.55" r="0.95" fill="#c41230" />
<circle cx="196.7" cy="95.39" r="0.95" fill="#c41230" />
<circle cx="196.7" cy="98.49" r="0.95" fill="#c41230" />
<circle cx="196.7" cy="100.79" r="0.95" fill="#c41230" />
<circle cx="196.7" cy="103.09" r="0.95" fill="#c41230" />
<circle cx="196.7" cy="106.2" r="0.95" fill="#c41230" />
<circle cx="196.7" cy="108.5" r="0.95" fill="#c41230" />
<circle cx="196.7" cy="110.8" r="0.95" fill="#c41230" />
<circle cx="196.7" cy="113.9" r="0.95" fill="#c41230" />
<circle cx="196.7" cy="115.74" r="0.95" fill="#c41230" />
<circle cx="196.7" cy="118.04" r="0.95" fill="#c41230" />
<path d="M217.2,43.5 L217.25,43.48 L217.31,43.29 L217.39,43.14 L217.47,43.24 L217.53,43.8 L217.58,45 L217.61,47.15 L217.64,50.13 L217.66,53.56 L217.66,57.06 L217.64,60.23 L217.58,62.7 L217.49,64.34 L217.38,65.45 L217.25,66.24 L217.09,66.91 L216.9,67.7 L216.7,68.8 L216.47,70.25 L216.21,71.87 L215.92,73.59 L215.62,75.36 L215.31,77.08 L215,78.7 L214.69,80.22 L214.36,81.71 L214.02,83.16 L213.69,84.57 L213.34,85.95 L213,87.3 L212.62,88.63 L212.18,89.94 L211.74,91.22 L211.35,92.46 L211.05,93.62 L210.9,94.7 L210.93,95.67 L211.11,96.55 L211.38,97.36 L211.69,98.13 L211.98,98.9 L212.2,99.7 L212.34,100.52 L212.46,101.32 L212.56,102.12 L212.65,102.93 L212.73,103.75 L212.8,104.6 L212.82,105.54 L212.76,106.57 L212.7,107.62 L212.69,108.61 L212.8,109.46 L213.1,110.1 L213.67,110.49 L214.49,110.69 L215.42,110.74 L216.35,110.73 L217.15,110.69 L217.7,110.7 L217.7,110.7 L218.25,110.69 L219.05,110.73 L219.98,110.74 L220.91,110.69 L221.73,110.49 L222.3,110.1 L222.6,109.46 L222.71,108.61 L222.7,107.62 L222.64,106.57 L222.58,105.54 L222.6,104.6 L222.67,103.75 L222.75,102.93 L222.84,102.12 L222.94,101.32 L223.06,100.52 L223.2,99.7 L223.42,98.9 L223.71,98.13 L224.02,97.36 L224.29,96.55 L224.47,95.67 L224.5,94.7 L224.35,93.62 L224.05,92.46 L223.66,91.22 L223.22,89.94 L222.78,88.63 L222.4,87.3 L222.06,85.95 L221.71,84.57 L221.38,83.16 L221.04,81.71 L220.71,80.22 L220.4,78.7 L220.09,77.08 L219.78,75.36 L219.48,73.59 L219.19,71.87 L218.93,70.25 L218.7,68.8 L218.5,67.7 L218.31,66.91 L218.15,66.24 L218.02,65.45 L217.91,64.34 L217.82,62.7 L217.76,60.23 L217.74,57.06 L217.74,53.56 L217.76,50.13 L217.79,47.15 L217.82,45 L217.87,43.8 L217.93,43.24 L218.01,43.14 L218.09,43.29 L218.15,43.48 L218.2,43.5 Z" fill="#888888"/>
<line x1="213.34" y1="86.1" x2="222.06" y2="86.1" stroke="#1a1a1a" stroke-width="0.8" />
<line x1="210.9" y1="94.4" x2="224.5" y2="94.4" stroke="#1a1a1a" stroke-width="1.4" />
<line x1="212.8" y1="104.6" x2="222.6" y2="104.6" stroke="#1a1a1a" stroke-width="0.8" />
<circle cx="217.7" cy="43.5" r="1" fill="#111" />
<circle cx="217.7" cy="69.5" r="0.9" fill="#111" />
<circle cx="217.7" cy="78" r="0.9" fill="#111" />
<circle cx="217.7" cy="81" r="0.9" fill="#111" />
<circle cx="217.7" cy="84" r="0.9" fill="#111" />
<circle cx="217.7" cy="88" r="0.9" fill="#111" />
<circle cx="217.7" cy="93" r="0.95" fill="#111" />
<circle cx="217.7" cy="94.68" r="0.95" fill="#111" />
<circle cx="217.7" cy="96.78" r="0.95" fill="#111" />
<circle cx="217.7" cy="99.61" r="0.95" fill="#111" />
<circle cx="217.7" cy="101.71" r="0.95" fill="#111" />
<circle cx="217.7" cy="103.39" r="0.95" fill="#111" />
<circle cx="217.7" cy="106.23" r="0.95" fill="#111" />
<circle cx="217.7" cy="108.33" r="0.95" fill="#111" />
<path d="M264.8,38.1 L264.85,37.98 L264.91,37.53 L264.99,37.14 L265.07,37.18 L265.13,38.01 L265.18,40 L265.21,43.66 L265.24,48.78 L265.26,54.69 L265.26,60.73 L265.24,66.23 L265.18,70.5 L265.08,73.44 L264.93,75.56 L264.76,77.13 L264.59,78.43 L264.43,79.73 L264.3,81.3 L264.22,83.13 L264.17,85 L264.14,86.87 L264.1,88.7 L264.04,90.46 L263.95,92.1 L263.82,93.64 L263.66,95.1 L263.49,96.49 L263.3,97.8 L263.1,99.04 L262.9,100.2 L262.7,101.27 L262.49,102.25 L262.28,103.16 L262.05,104 L261.79,104.81 L261.5,105.6 L261.15,106.35 L260.73,107.03 L260.29,107.68 L259.86,108.31 L259.48,108.94 L259.2,109.6 L259,110.29 L258.84,110.99 L258.74,111.69 L258.7,112.39 L258.72,113.06 L258.8,113.7 L258.94,114.31 L259.13,114.91 L259.38,115.48 L259.7,116.03 L260.11,116.53 L260.6,117 L261.27,117.43 L262.13,117.84 L263.06,118.21 L263.97,118.53 L264.76,118.8 L265.3,119 L265.3,119 L265.84,118.8 L266.63,118.53 L267.54,118.21 L268.47,117.84 L269.33,117.43 L270,117 L270.49,116.53 L270.9,116.03 L271.22,115.48 L271.47,114.91 L271.66,114.31 L271.8,113.7 L271.88,113.06 L271.9,112.39 L271.86,111.69 L271.76,110.99 L271.6,110.29 L271.4,109.6 L271.12,108.94 L270.74,108.31 L270.31,107.68 L269.87,107.03 L269.45,106.35 L269.1,105.6 L268.81,104.81 L268.55,104 L268.32,103.16 L268.11,102.25 L267.9,101.27 L267.7,100.2 L267.5,99.04 L267.3,97.8 L267.11,96.49 L266.94,95.1 L266.78,93.64 L266.65,92.1 L266.56,90.46 L266.5,88.7 L266.46,86.87 L266.43,85 L266.38,83.13 L266.3,81.3 L266.17,79.73 L266.01,78.43 L265.84,77.13 L265.67,75.56 L265.52,73.44 L265.42,70.5 L265.36,66.23 L265.34,60.73 L265.34,54.69 L265.36,48.78 L265.39,43.66 L265.42,40 L265.47,38.01 L265.53,37.18 L265.61,37.14 L265.69,37.53 L265.75,37.98 L265.8,38.1 Z" fill="#e68b9a"/>
<line x1="263.3" y1="97.2" x2="267.3" y2="97.2" stroke="#6b2a33" stroke-width="0.8" />
<line x1="259.2" y1="109.6" x2="271.4" y2="109.6" stroke="#6b2a33" stroke-width="1.4" />
<line x1="258.94" y1="114.3" x2="271.66" y2="114.3" stroke="#6b2a33" stroke-width="0.8" />
<line x1="265.3" y1="98" x2="265.3" y2="119" stroke="#c41230" stroke-width="1.5" />
<circle cx="265.3" cy="38.1" r="1" fill="#c41230" />
<circle cx="265.3" cy="54.6" r="1" fill="#c41230" />
<circle cx="265.3" cy="77" r="0.9" fill="#c41230" />
<circle cx="265.3" cy="79" r="0.9" fill="#c41230" />
<circle cx="265.3" cy="81" r="0.9" fill="#c41230" />
<circle cx="265.3" cy="90" r="0.9" fill="#c41230" />
<circle cx="265.3" cy="94" r="0.95" fill="#c41230" />
<circle cx="265.3" cy="95.52" r="0.95" fill="#c41230" />
<circle cx="265.3" cy="97.42" r="0.95" fill="#c41230" />
<circle cx="265.3" cy="99.98" r="0.95" fill="#c41230" />
<circle cx="265.3" cy="101.89" r="0.95" fill="#c41230" />
<circle cx="265.3" cy="103.41" r="0.95" fill="#c41230" />
<circle cx="265.3" cy="105.97" r="0.95" fill="#c41230" />
<circle cx="265.3" cy="107.87" r="0.95" fill="#c41230" />
<circle cx="265.3" cy="109.77" r="0.95" fill="#c41230" />
<circle cx="265.3" cy="112.34" r="0.95" fill="#c41230" />
<circle cx="265.3" cy="114.24" r="0.95" fill="#c41230" />
<circle cx="265.3" cy="116.14" r="0.95" fill="#c41230" />
<circle cx="265.3" cy="118.7" r="0.95" fill="#c41230" />
<path d="M284.8,66.2 L284.64,66.59 L284.43,67.07 L284.17,67.68 L283.9,68.43 L283.63,69.36 L283.4,70.5 L283.2,71.96 L283.02,73.72 L282.84,75.66 L282.67,77.66 L282.49,79.58 L282.3,81.3 L282.09,82.85 L281.87,84.35 L281.64,85.78 L281.42,87.1 L281.2,88.32 L281,89.4 L280.8,90.29 L280.59,90.99 L280.39,91.57 L280.22,92.11 L280.08,92.7 L280,93.4 L280,94.22 L280.08,95.1 L280.2,96.01 L280.32,96.95 L280.4,97.88 L280.4,98.8 L280.27,99.72 L280.03,100.65 L279.76,101.58 L279.51,102.5 L279.37,103.38 L279.4,104.2 L279.63,104.94 L280,105.61 L280.48,106.25 L281.02,106.89 L281.57,107.56 L282.1,108.3 L282.65,109.18 L283.25,110.2 L283.88,111.24 L284.47,112.24 L284.99,113.09 L285.4,113.7 L285.68,114.04 L285.85,114.16 L285.96,114.14 L286.01,114.04 L286.05,113.94 L286.1,113.9 L286.1,113.9 L286.15,113.94 L286.19,114.04 L286.24,114.14 L286.35,114.16 L286.52,114.04 L286.8,113.7 L287.21,113.09 L287.73,112.24 L288.33,111.24 L288.95,110.2 L289.55,109.18 L290.1,108.3 L290.63,107.56 L291.18,106.89 L291.72,106.25 L292.2,105.61 L292.57,104.94 L292.8,104.2 L292.83,103.38 L292.69,102.5 L292.44,101.58 L292.17,100.65 L291.93,99.72 L291.8,98.8 L291.8,97.88 L291.88,96.95 L292,96.01 L292.12,95.1 L292.2,94.22 L292.2,93.4 L292.12,92.7 L291.98,92.11 L291.81,91.57 L291.61,90.99 L291.4,90.29 L291.2,89.4 L291,88.32 L290.78,87.1 L290.56,85.78 L290.33,84.35 L290.11,82.85 L289.9,81.3 L289.71,79.58 L289.53,77.66 L289.36,75.66 L289.18,73.72 L289,71.96 L288.8,70.5 L288.57,69.36 L288.3,68.43 L288.03,67.68 L287.77,67.07 L287.56,66.59 L287.4,66.2 Z" fill="#888888"/>
<line x1="282.09" y1="82.4" x2="290.11" y2="82.4" stroke="#1a1a1a" stroke-width="0.8" />
<line x1="280" y1="93.4" x2="292.2" y2="93.4" stroke="#1a1a1a" stroke-width="1.4" />
<line x1="279.4" y1="104.2" x2="292.8" y2="104.2" stroke="#1a1a1a" stroke-width="0.8" />
<circle cx="286.1" cy="67" r="0.95" fill="#111" />
<circle cx="286.1" cy="69" r="0.95" fill="#111" />
<circle cx="286.1" cy="71.5" r="0.95" fill="#111" />
<circle cx="286.1" cy="74.88" r="0.95" fill="#111" />
<circle cx="286.1" cy="77.38" r="0.95" fill="#111" />
<circle cx="286.1" cy="79.38" r="0.95" fill="#111" />
<circle cx="286.1" cy="82.75" r="0.95" fill="#111" />
<circle cx="286.1" cy="85.25" r="0.95" fill="#111" />
<circle cx="286.1" cy="87.75" r="0.95" fill="#111" />
<circle cx="286.1" cy="91.12" r="0.95" fill="#111" />
<circle cx="286.1" cy="93.62" r="0.95" fill="#111" />
<circle cx="286.1" cy="96.12" r="0.95" fill="#111" />
<circle cx="286.1" cy="99.5" r="0.95" fill="#111" />
<circle cx="286.1" cy="101.5" r="0.95" fill="#111" />
<circle cx="286.1" cy="104" r="0.95" fill="#111" />
<circle cx="286.1" cy="107.38" r="0.95" fill="#111" />
<circle cx="286.1" cy="109.88" r="0.95" fill="#111" />
<circle cx="286.1" cy="111.88" r="0.95" fill="#111" />
<path d="M334.9,50.3 L334.9,50.81 L334.9,51.5 L334.91,52.32 L334.91,53.22 L334.91,54.13 L334.9,55 L334.88,55.85 L334.86,56.75 L334.82,57.66 L334.8,58.55 L334.79,59.41 L334.8,60.2 L334.84,60.87 L334.9,61.41 L334.98,61.93 L335.06,62.47 L335.14,63.14 L335.2,64 L335.25,65.12 L335.3,66.45 L335.34,67.89 L335.37,69.36 L335.38,70.76 L335.38,72 L335.36,73.1 L335.32,74.13 L335.26,75.1 L335.19,75.99 L335.11,76.79 L335,77.5 L334.87,78.05 L334.71,78.43 L334.54,78.73 L334.36,79.02 L334.17,79.39 L334,79.9 L333.81,80.58 L333.61,81.38 L333.4,82.24 L333.21,83.14 L333.07,84.04 L333,84.9 L333.03,85.71 L333.16,86.49 L333.34,87.28 L333.51,88.07 L333.63,88.91 L333.65,89.8 L333.56,90.77 L333.39,91.82 L333.18,92.9 L332.93,93.98 L332.66,95.03 L332.4,96 L332.13,96.88 L331.84,97.69 L331.54,98.46 L331.23,99.23 L330.91,100.03 L330.6,100.9 L330.26,101.83 L329.89,102.8 L329.51,103.79 L329.17,104.83 L328.88,105.89 L328.7,107 L328.56,108.19 L328.44,109.48 L328.38,110.81 L328.44,112.11 L328.66,113.33 L329.1,114.4 L329.89,115.36 L331.03,116.25 L332.32,117.06 L333.62,117.77 L334.73,118.36 L335.5,118.8 L335.5,118.8 L336.27,118.36 L337.38,117.77 L338.68,117.06 L339.97,116.25 L341.11,115.36 L341.9,114.4 L342.34,113.33 L342.56,112.11 L342.62,110.81 L342.56,109.48 L342.44,108.19 L342.3,107 L342.12,105.89 L341.83,104.83 L341.49,103.79 L341.11,102.8 L340.74,101.83 L340.4,100.9 L340.09,100.03 L339.77,99.23 L339.46,98.46 L339.16,97.69 L338.87,96.88 L338.6,96 L338.34,95.03 L338.07,93.98 L337.82,92.9 L337.61,91.82 L337.44,90.77 L337.35,89.8 L337.37,88.91 L337.49,88.07 L337.66,87.28 L337.84,86.49 L337.97,85.71 L338,84.9 L337.93,84.04 L337.79,83.14 L337.6,82.24 L337.39,81.38 L337.19,80.58 L337,79.9 L336.83,79.39 L336.64,79.02 L336.46,78.73 L336.29,78.43 L336.13,78.05 L336,77.5 L335.89,76.79 L335.81,75.99 L335.74,75.1 L335.68,74.13 L335.64,73.1 L335.62,72 L335.62,70.76 L335.63,69.36 L335.66,67.89 L335.7,66.45 L335.75,65.12 L335.8,64 L335.86,63.14 L335.94,62.47 L336.02,61.93 L336.1,61.41 L336.16,60.87 L336.2,60.2 L336.21,59.41 L336.2,58.55 L336.18,57.66 L336.14,56.75 L336.12,55.85 L336.1,55 L336.09,54.13 L336.09,53.22 L336.09,52.32 L336.1,51.5 L336.1,50.81 L336.1,50.3 Z" fill="#e68b9a"/>
<line x1="331.84" y1="97.8" x2="339.16" y2="97.8" stroke="#6b2a33" stroke-width="0.8" />
<line x1="328.88" y1="106.4" x2="342.12" y2="106.4" stroke="#6b2a33" stroke-width="1.4" />
<line x1="328.66" y1="113.2" x2="342.34" y2="113.2" stroke="#6b2a33" stroke-width="0.8" />
<line x1="335.5" y1="98" x2="335.5" y2="119" stroke="#c41230" stroke-width="1.5" />
<circle cx="335.5" cy="50.3" r="1" fill="#c41230" />
<circle cx="335.5" cy="60.2" r="1" fill="#c41230" />
<circle cx="335.5" cy="83" r="0.95" fill="#c41230" />
<circle cx="335.5" cy="84.76" r="0.95" fill="#c41230" />
<circle cx="335.5" cy="86.96" r="0.95" fill="#c41230" />
<circle cx="335.5" cy="89.93" r="0.95" fill="#c41230" />
<circle cx="335.5" cy="92.13" r="0.95" fill="#c41230" />
<circle cx="335.5" cy="93.89" r="0.95" fill="#c41230" />
<circle cx="335.5" cy="96.86" r="0.95" fill="#c41230" />
<circle cx="335.5" cy="99.06" r="0.95" fill="#c41230" />
<circle cx="335.5" cy="101.26" r="0.95" fill="#c41230" />
<circle cx="335.5" cy="104.23" r="0.95" fill="#c41230" />
<circle cx="335.5" cy="106.43" r="0.95" fill="#c41230" />
<circle cx="335.5" cy="108.63" r="0.95" fill="#c41230" />
<circle cx="335.5" cy="111.6" r="0.95" fill="#c41230" />
<circle cx="335.5" cy="113.36" r="0.95" fill="#c41230" />
<circle cx="335.5" cy="115.56" r="0.95" fill="#c41230" />
<circle cx="335.5" cy="118.53" r="0.95" fill="#c41230" />
<path d="M356.2,43.5 L356.25,43.55 L356.31,43.52 L356.39,43.53 L356.47,43.7 L356.53,44.15 L356.58,45 L356.61,46.4 L356.64,48.29 L356.66,50.46 L356.66,52.69 L356.64,54.77 L356.58,56.5 L356.49,57.77 L356.37,58.73 L356.23,59.55 L356.07,60.38 L355.89,61.38 L355.7,62.7 L355.48,64.4 L355.23,66.35 L354.97,68.47 L354.7,70.67 L354.44,72.88 L354.2,75 L353.99,77.11 L353.79,79.28 L353.6,81.46 L353.41,83.56 L353.21,85.53 L353,87.3 L352.76,88.83 L352.51,90.17 L352.25,91.38 L351.99,92.5 L351.74,93.59 L351.5,94.7 L351.26,95.82 L351,96.93 L350.75,97.99 L350.53,99.02 L350.38,99.99 L350.3,100.9 L350.31,101.74 L350.39,102.52 L350.52,103.24 L350.71,103.93 L350.94,104.57 L351.2,105.2 L351.51,105.82 L351.86,106.43 L352.26,107.01 L352.69,107.53 L353.14,107.97 L353.6,108.3 L354.11,108.5 L354.7,108.59 L355.3,108.59 L355.87,108.56 L356.35,108.51 L356.7,108.5 L356.7,108.5 L357.05,108.51 L357.53,108.56 L358.1,108.59 L358.7,108.59 L359.29,108.5 L359.8,108.3 L360.26,107.97 L360.71,107.53 L361.14,107.01 L361.54,106.43 L361.89,105.82 L362.2,105.2 L362.46,104.57 L362.69,103.93 L362.88,103.24 L363.01,102.52 L363.09,101.74 L363.1,100.9 L363.02,99.99 L362.87,99.02 L362.65,97.99 L362.4,96.93 L362.14,95.82 L361.9,94.7 L361.66,93.59 L361.41,92.5 L361.15,91.38 L360.89,90.17 L360.64,88.83 L360.4,87.3 L360.19,85.53 L359.99,83.56 L359.8,81.46 L359.61,79.28 L359.41,77.11 L359.2,75 L358.96,72.88 L358.7,70.67 L358.43,68.47 L358.17,66.35 L357.92,64.4 L357.7,62.7 L357.51,61.38 L357.33,60.38 L357.17,59.55 L357.03,58.73 L356.91,57.77 L356.82,56.5 L356.76,54.77 L356.74,52.69 L356.74,50.46 L356.76,48.29 L356.79,46.4 L356.82,45 L356.87,44.15 L356.93,43.7 L357.01,43.53 L357.09,43.52 L357.15,43.55 L357.2,43.5 Z" fill="#888888"/>
<line x1="353.79" y1="79.9" x2="359.61" y2="79.9" stroke="#1a1a1a" stroke-width="0.8" />
<line x1="351.26" y1="95.3" x2="362.14" y2="95.3" stroke="#1a1a1a" stroke-width="1.4" />
<line x1="350.39" y1="102.7" x2="363.01" y2="102.7" stroke="#1a1a1a" stroke-width="0.8" />
<circle cx="356.7" cy="43.5" r="1" fill="#111" />
<circle cx="356.7" cy="68" r="0.95" fill="#111" />
<circle cx="356.7" cy="69.76" r="0.95" fill="#111" />
<circle cx="356.7" cy="71.96" r="0.95" fill="#111" />
<circle cx="356.7" cy="74.93" r="0.95" fill="#111" />
<circle cx="356.7" cy="77.13" r="0.95" fill="#111" />
<circle cx="356.7" cy="78.89" r="0.95" fill="#111" />
<circle cx="356.7" cy="81.86" r="0.95" fill="#111" />
<circle cx="356.7" cy="84.06" r="0.95" fill="#111" />
<circle cx="356.7" cy="86.26" r="0.95" fill="#111" />
<circle cx="356.7" cy="89.23" r="0.95" fill="#111" />
<circle cx="356.7" cy="91.43" r="0.95" fill="#111" />
<circle cx="356.7" cy="93.63" r="0.95" fill="#111" />
<circle cx="356.7" cy="96.6" r="0.95" fill="#111" />
<circle cx="356.7" cy="98.36" r="0.95" fill="#111" />
<circle cx="356.7" cy="100.56" r="0.95" fill="#111" />
<circle cx="356.7" cy="103.53" r="0.95" fill="#111" />
<circle cx="356.7" cy="105.73" r="0.95" fill="#111" />
<circle cx="356.7" cy="107.49" r="0.95" fill="#111" />
<path d="M405,67.6 L404.97,68.35 L404.94,69.34 L404.9,70.53 L404.85,71.9 L404.79,73.4 L404.7,75 L404.59,76.82 L404.46,78.92 L404.31,81.15 L404.15,83.38 L404,85.48 L403.85,87.3 L403.71,88.82 L403.56,90.13 L403.42,91.31 L403.28,92.41 L403.14,93.52 L403,94.7 L402.87,95.95 L402.75,97.21 L402.63,98.48 L402.51,99.72 L402.37,100.94 L402.2,102.1 L402.01,103.23 L401.8,104.35 L401.57,105.43 L401.33,106.46 L401.07,107.43 L400.8,108.3 L400.48,109.07 L400.11,109.74 L399.72,110.34 L399.37,110.9 L399.08,111.45 L398.9,112 L398.79,112.56 L398.71,113.1 L398.69,113.63 L398.79,114.14 L399.05,114.63 L399.5,115.1 L400.28,115.57 L401.38,116.04 L402.64,116.49 L403.89,116.9 L404.96,117.25 L405.7,117.5 L405.7,117.5 L406.44,117.25 L407.51,116.9 L408.76,116.49 L410.02,116.04 L411.12,115.57 L411.9,115.1 L412.35,114.63 L412.61,114.14 L412.71,113.63 L412.69,113.1 L412.61,112.56 L412.5,112 L412.32,111.45 L412.03,110.9 L411.68,110.34 L411.29,109.74 L410.92,109.07 L410.6,108.3 L410.33,107.43 L410.07,106.46 L409.83,105.43 L409.6,104.35 L409.39,103.23 L409.2,102.1 L409.03,100.94 L408.89,99.72 L408.77,98.48 L408.65,97.21 L408.53,95.95 L408.4,94.7 L408.26,93.52 L408.12,92.41 L407.98,91.31 L407.84,90.13 L407.69,88.82 L407.55,87.3 L407.4,85.48 L407.25,83.38 L407.09,81.15 L406.94,78.92 L406.81,76.82 L406.7,75 L406.61,73.4 L406.55,71.9 L406.5,70.53 L406.46,69.34 L406.43,68.35 L406.4,67.6 Z" fill="#e68b9a"/>
<line x1="402.75" y1="97.4" x2="408.65" y2="97.4" stroke="#6b2a33" stroke-width="0.8" />
<line x1="400.48" y1="108.9" x2="410.92" y2="108.9" stroke="#6b2a33" stroke-width="1.4" />
<line x1="399.05" y1="114.4" x2="412.35" y2="114.4" stroke="#6b2a33" stroke-width="0.8" />
<line x1="405.7" y1="92" x2="405.7" y2="117.5" stroke="#c41230" stroke-width="1.5" />
<circle cx="405.7" cy="68" r="0.95" fill="#c41230" />
<circle cx="405.7" cy="69.76" r="0.95" fill="#c41230" />
<circle cx="405.7" cy="71.96" r="0.95" fill="#c41230" />
<circle cx="405.7" cy="74.93" r="0.95" fill="#c41230" />
<circle cx="405.7" cy="77.13" r="0.95" fill="#c41230" />
<circle cx="405.7" cy="78.89" r="0.95" fill="#c41230" />
<circle cx="405.7" cy="81.86" r="0.95" fill="#c41230" />
<circle cx="405.7" cy="84.06" r="0.95" fill="#c41230" />
<circle cx="405.7" cy="86.26" r="0.95" fill="#c41230" />
<circle cx="405.7" cy="89.23" r="0.95" fill="#c41230" />
<circle cx="405.7" cy="91.43" r="0.95" fill="#c41230" />
<circle cx="405.7" cy="93.63" r="0.95" fill="#c41230" />
<circle cx="405.7" cy="96.6" r="0.95" fill="#c41230" />
<circle cx="405.7" cy="98.36" r="0.95" fill="#c41230" />
<circle cx="405.7" cy="100.56" r="0.95" fill="#c41230" />
<circle cx="405.7" cy="103.53" r="0.95" fill="#c41230" />
<circle cx="405.7" cy="105.73" r="0.95" fill="#c41230" />
<circle cx="405.7" cy="107.49" r="0.95" fill="#c41230" />
<circle cx="405.7" cy="110.46" r="0.95" fill="#c41230" />
<circle cx="405.7" cy="112.66" r="0.95" fill="#c41230" />
<circle cx="405.7" cy="114.86" r="0.95" fill="#c41230" />
<path d="M425.2,49.1 L425.19,49.62 L425.17,50.32 L425.15,51.16 L425.14,52.09 L425.15,53.05 L425.2,54 L425.32,54.96 L425.5,55.97 L425.71,57.02 L425.9,58.09 L426.01,59.15 L426,60.2 L425.86,61.23 L425.61,62.27 L425.29,63.31 L424.93,64.34 L424.55,65.37 L424.2,66.4 L423.84,67.41 L423.44,68.39 L423.04,69.38 L422.64,70.37 L422.29,71.41 L422,72.5 L421.76,73.66 L421.56,74.87 L421.39,76.12 L421.27,77.39 L421.2,78.65 L421.2,79.9 L421.28,81.15 L421.45,82.41 L421.68,83.67 L421.93,84.92 L422.18,86.14 L422.4,87.3 L422.63,88.4 L422.89,89.46 L423.15,90.47 L423.38,91.48 L423.54,92.48 L423.6,93.5 L423.55,94.53 L423.41,95.57 L423.21,96.61 L422.96,97.64 L422.68,98.67 L422.4,99.7 L422.07,100.74 L421.66,101.79 L421.22,102.83 L420.81,103.86 L420.49,104.85 L420.3,105.8 L420.22,106.72 L420.21,107.63 L420.27,108.51 L420.45,109.33 L420.75,110.07 L421.2,110.7 L421.91,111.21 L422.9,111.63 L424.01,111.96 L425.1,112.22 L426.05,112.43 L426.7,112.6 L426.7,112.6 L427.35,112.43 L428.3,112.22 L429.39,111.96 L430.5,111.63 L431.49,111.21 L432.2,110.7 L432.65,110.07 L432.95,109.33 L433.12,108.51 L433.19,107.63 L433.18,106.72 L433.1,105.8 L432.91,104.85 L432.59,103.86 L432.18,102.83 L431.74,101.79 L431.33,100.74 L431,99.7 L430.72,98.67 L430.44,97.64 L430.19,96.61 L429.99,95.57 L429.85,94.53 L429.8,93.5 L429.86,92.48 L430.02,91.48 L430.25,90.47 L430.51,89.46 L430.77,88.4 L431,87.3 L431.22,86.14 L431.47,84.92 L431.72,83.67 L431.95,82.41 L432.12,81.15 L432.2,79.9 L432.2,78.65 L432.13,77.39 L432.01,76.12 L431.84,74.87 L431.64,73.66 L431.4,72.5 L431.11,71.41 L430.76,70.37 L430.36,69.38 L429.96,68.39 L429.56,67.41 L429.2,66.4 L428.85,65.37 L428.47,64.34 L428.11,63.31 L427.79,62.27 L427.54,61.23 L427.4,60.2 L427.39,59.15 L427.5,58.09 L427.69,57.02 L427.9,55.97 L428.08,54.96 L428.2,54 L428.25,53.05 L428.26,52.09 L428.25,51.16 L428.23,50.32 L428.21,49.62 L428.2,49.1 Z" fill="#888888"/>
<line x1="421.56" y1="75" x2="431.84" y2="75" stroke="#1a1a1a" stroke-width="0.8" />
<line x1="423.54" y1="92.3" x2="429.86" y2="92.3" stroke="#1a1a1a" stroke-width="1.4" />
<line x1="420.3" y1="105.8" x2="433.1" y2="105.8" stroke="#1a1a1a" stroke-width="0.8" />
<circle cx="426.7" cy="49.5" r="1" fill="#111" />
<circle cx="426.7" cy="51.5" r="1" fill="#111" />
<circle cx="426.7" cy="53.5" r="0.9" fill="#111" />
<circle cx="426.7" cy="74" r="0.9" fill="#111" />
<circle cx="426.7" cy="76" r="0.9" fill="#111" />
<circle cx="426.7" cy="82" r="0.9" fill="#111" />
<circle cx="426.7" cy="84" r="0.9" fill="#111" />
<circle cx="426.7" cy="87" r="0.9" fill="#111" />
<circle cx="426.7" cy="98" r="0.9" fill="#111" />
<circle cx="426.7" cy="101" r="0.9" fill="#111" />
<circle cx="426.7" cy="104" r="0.9" fill="#111" />
<circle cx="426.7" cy="106" r="0.9" fill="#111" />
<circle cx="426.7" cy="108" r="0.9" fill="#111" />
<circle cx="426.7" cy="111.5" r="1" fill="#111" />
<path d="M484.6,45.4 L484.65,45.47 L484.72,45.47 L484.81,45.51 L484.89,45.71 L484.95,46.17 L484.98,47 L484.97,48.39 L484.93,50.3 L484.88,52.46 L484.81,54.64 L484.75,56.57 L484.7,58 L484.67,58.79 L484.65,59.1 L484.64,59.17 L484.62,59.22 L484.57,59.49 L484.5,60.2 L484.4,61.41 L484.28,62.93 L484.14,64.67 L483.98,66.52 L483.8,68.37 L483.6,70.1 L483.37,71.77 L483.12,73.46 L482.84,75.16 L482.56,76.81 L482.27,78.41 L482,79.9 L481.73,81.27 L481.45,82.54 L481.18,83.75 L480.9,84.92 L480.64,86.09 L480.4,87.3 L480.17,88.53 L479.95,89.77 L479.74,91 L479.55,92.23 L479.37,93.47 L479.2,94.7 L479.03,95.96 L478.86,97.26 L478.7,98.56 L478.57,99.82 L478.5,101.01 L478.5,102.1 L478.57,103.08 L478.7,103.96 L478.88,104.78 L479.1,105.55 L479.38,106.28 L479.7,107 L480.09,107.71 L480.56,108.41 L481.07,109.08 L481.6,109.69 L482.12,110.24 L482.6,110.7 L483.07,111.07 L483.56,111.36 L484.03,111.58 L484.47,111.75 L484.83,111.89 L485.1,112 L485.1,112 L485.37,111.89 L485.73,111.75 L486.17,111.58 L486.64,111.36 L487.13,111.07 L487.6,110.7 L488.08,110.24 L488.6,109.69 L489.13,109.08 L489.64,108.41 L490.11,107.71 L490.5,107 L490.82,106.28 L491.1,105.55 L491.33,104.78 L491.5,103.96 L491.63,103.08 L491.7,102.1 L491.7,101.01 L491.63,99.82 L491.5,98.56 L491.34,97.26 L491.17,95.96 L491,94.7 L490.83,93.47 L490.65,92.23 L490.46,91 L490.25,89.77 L490.03,88.53 L489.8,87.3 L489.56,86.09 L489.3,84.92 L489.03,83.75 L488.75,82.54 L488.47,81.27 L488.2,79.9 L487.93,78.41 L487.64,76.81 L487.36,75.16 L487.08,73.46 L486.83,71.77 L486.6,70.1 L486.4,68.37 L486.22,66.52 L486.06,64.67 L485.92,62.93 L485.8,61.41 L485.7,60.2 L485.63,59.49 L485.58,59.22 L485.56,59.17 L485.55,59.1 L485.53,58.79 L485.5,58 L485.45,56.57 L485.39,54.64 L485.32,52.46 L485.27,50.3 L485.23,48.39 L485.22,47 L485.25,46.17 L485.31,45.71 L485.39,45.51 L485.48,45.47 L485.55,45.47 L485.6,45.4 Z" fill="#e68b9a"/>
<line x1="480.9" y1="85.5" x2="489.3" y2="85.5" stroke="#6b2a33" stroke-width="0.8" />
<line x1="478.86" y1="96.9" x2="491.34" y2="96.9" stroke="#6b2a33" stroke-width="1.4" />
<line x1="478.7" y1="104" x2="491.5" y2="104" stroke="#6b2a33" stroke-width="0.8" />
<line x1="485.1" y1="86" x2="485.1" y2="111.5" stroke="#c41230" stroke-width="1.5" />
<circle cx="485.1" cy="45.4" r="1" fill="#c41230" />
<circle cx="485.1" cy="67.5" r="0.95" fill="#c41230" />
<circle cx="485.1" cy="70" r="0.95" fill="#c41230" />
<circle cx="485.1" cy="75" r="0.95" fill="#c41230" />
<circle cx="485.1" cy="77" r="0.95" fill="#c41230" />
<circle cx="485.1" cy="81" r="0.95" fill="#c41230" />
<circle cx="485.1" cy="84" r="0.95" fill="#c41230" />
<circle cx="485.1" cy="85.6" r="0.95" fill="#c41230" />
<circle cx="485.1" cy="87.6" r="0.95" fill="#c41230" />
<circle cx="485.1" cy="90.3" r="0.95" fill="#c41230" />
<circle cx="485.1" cy="92.3" r="0.95" fill="#c41230" />
<circle cx="485.1" cy="93.9" r="0.95" fill="#c41230" />
<circle cx="485.1" cy="96.6" r="0.95" fill="#c41230" />
<circle cx="485.1" cy="98.6" r="0.95" fill="#c41230" />
<circle cx="485.1" cy="100.6" r="0.95" fill="#c41230" />
<circle cx="485.1" cy="103.3" r="0.95" fill="#c41230" />
<circle cx="485.1" cy="105.3" r="0.95" fill="#c41230" />
<circle cx="485.1" cy="107.3" r="0.95" fill="#c41230" />
<circle cx="485.1" cy="110" r="0.95" fill="#c41230" />
<path d="M505.3,80.5 L505.29,81.1 L505.28,81.94 L505.27,82.94 L505.25,84 L505.23,85.05 L505.2,86 L505.17,86.89 L505.16,87.78 L505.13,88.66 L505.09,89.5 L505.02,90.29 L504.9,91 L504.74,91.62 L504.54,92.15 L504.32,92.62 L504.07,93.07 L503.79,93.52 L503.5,94 L503.17,94.5 L502.79,95 L502.39,95.5 L502,96 L501.62,96.5 L501.3,97 L501.02,97.51 L500.77,98.02 L500.54,98.53 L500.34,99.04 L500.16,99.53 L500,100 L499.85,100.45 L499.72,100.87 L499.61,101.28 L499.53,101.69 L499.49,102.09 L499.5,102.5 L499.58,102.91 L499.73,103.31 L499.92,103.72 L500.13,104.13 L500.33,104.55 L500.5,105 L500.65,105.46 L500.79,105.93 L500.93,106.41 L501.06,106.91 L501.18,107.44 L501.3,108 L501.4,108.63 L501.49,109.31 L501.56,110.03 L501.65,110.74 L501.76,111.41 L501.9,112 L502.07,112.51 L502.25,112.97 L502.45,113.39 L502.69,113.77 L502.96,114.14 L503.3,114.5 L503.74,114.86 L504.29,115.22 L504.89,115.56 L505.46,115.86 L505.96,116.11 L506.3,116.3 L506.3,116.3 L506.64,116.11 L507.14,115.86 L507.71,115.56 L508.31,115.22 L508.86,114.86 L509.3,114.5 L509.64,114.14 L509.91,113.77 L510.15,113.39 L510.35,112.97 L510.53,112.51 L510.7,112 L510.84,111.41 L510.95,110.74 L511.04,110.03 L511.11,109.31 L511.2,108.63 L511.3,108 L511.42,107.44 L511.54,106.91 L511.68,106.41 L511.81,105.93 L511.95,105.46 L512.1,105 L512.27,104.55 L512.47,104.13 L512.68,103.72 L512.87,103.31 L513.02,102.91 L513.1,102.5 L513.11,102.09 L513.07,101.69 L512.99,101.28 L512.88,100.87 L512.75,100.45 L512.6,100 L512.44,99.53 L512.26,99.04 L512.06,98.53 L511.83,98.02 L511.58,97.51 L511.3,97 L510.98,96.5 L510.6,96 L510.21,95.5 L509.81,95 L509.43,94.5 L509.1,94 L508.81,93.52 L508.53,93.07 L508.28,92.62 L508.06,92.15 L507.86,91.62 L507.7,91 L507.58,90.29 L507.51,89.5 L507.47,88.66 L507.44,87.78 L507.43,86.89 L507.4,86 L507.37,85.05 L507.35,84 L507.33,82.94 L507.32,81.94 L507.31,81.1 L507.3,80.5 Z" fill="#888888"/>
<line x1="499.5" y1="102.4" x2="513.1" y2="102.4" stroke="#1a1a1a" stroke-width="0.8" />
<line x1="501.49" y1="109.3" x2="511.11" y2="109.3" stroke="#1a1a1a" stroke-width="1.4" />
<circle cx="506.3" cy="81" r="0.95" fill="#111" />
<circle cx="506.3" cy="82.6" r="0.95" fill="#111" />
<circle cx="506.3" cy="84.6" r="0.95" fill="#111" />
<circle cx="506.3" cy="87.3" r="0.95" fill="#111" />
<circle cx="506.3" cy="89.3" r="0.95" fill="#111" />
<circle cx="506.3" cy="90.9" r="0.95" fill="#111" />
<circle cx="506.3" cy="93.6" r="0.95" fill="#111" />
<circle cx="506.3" cy="95.6" r="0.95" fill="#111" />
<circle cx="506.3" cy="97.6" r="0.95" fill="#111" />
<circle cx="506.3" cy="100.3" r="0.95" fill="#111" />
<circle cx="506.3" cy="102.3" r="0.95" fill="#111" />
<circle cx="506.3" cy="104.3" r="0.95" fill="#111" />
<circle cx="506.3" cy="107" r="0.95" fill="#111" />
<circle cx="506.3" cy="108.6" r="0.95" fill="#111" />
<circle cx="506.3" cy="110.6" r="0.95" fill="#111" />
<circle cx="506.3" cy="113.3" r="0.95" fill="#111" />
<circle cx="506.3" cy="115.3" r="0.95" fill="#111" />
<rect x="199" y="139.6" width="8" height="3.8" fill="#e68b9a"/>
<line x1="199" y1="141.5" x2="207" y2="141.5" stroke="#b03048" stroke-width="0.5" />
<circle cx="203" cy="141.5" r="0.9" fill="#c41230" />
<text x="210.8" y="144.4" font-size="8" text-anchor="start" fill="#c41230" font-weight="bold" textLength="69.9" lengthAdjust="spacingAndGlyphs" >M12 after allo-HSCT</text>
<rect x="293.8" y="139.6" width="7.6" height="3.8" fill="#888888"/>
<line x1="293.8" y1="141.5" x2="301.4" y2="141.5" stroke="#222" stroke-width="0.5" />
<circle cx="297.6" cy="141.5" r="0.9" fill="#111" />
<text x="305" y="144.4" font-size="8" text-anchor="start" fill="#111" font-weight="bold" textLength="52.8" lengthAdjust="spacingAndGlyphs" >Healthy donors</text>
<text x="6.5" y="166" font-size="11" text-anchor="start" fill="#000" font-weight="bold" >C</text>
<rect x="77.3" y="378.2" width="397.5" height="33.6" fill="#d9d9d9"/>
<line x1="77" y1="378.2" x2="475.6" y2="378.2" stroke="#222" stroke-width="0.8" stroke-dasharray="1.8,1.3"/>
<line x1="245.5" y1="160.5" x2="245.5" y2="411" stroke="#222" stroke-width="0.8" stroke-dasharray="2.3,1.9"/>
<line x1="273.5" y1="160.5" x2="273.5" y2="411" stroke="#222" stroke-width="0.8" stroke-dasharray="2.3,1.9"/>
<line x1="288.2" y1="160.5" x2="288.2" y2="411" stroke="#222" stroke-width="0.8" stroke-dasharray="2.3,1.9"/>
<line x1="76.3" y1="158.5" x2="76.3" y2="412.8" stroke="#111" stroke-width="1.1" />
<line x1="75.8" y1="412.3" x2="475" y2="412.3" stroke="#111" stroke-width="1.1" />
<line x1="72.8" y1="162.3" x2="76.3" y2="162.3" stroke="#111" stroke-width="0.9" />
<text x="60.5" y="165.7" font-size="8.3" text-anchor="end" fill="#222" textLength="8.3" lengthAdjust="spacingAndGlyphs" >10</text>
<text x="60.9" y="163.2" font-size="6.4" text-anchor="start" fill="#222" textLength="8.8" lengthAdjust="spacingAndGlyphs" >–10</text>
<line x1="74.5" y1="169.77" x2="76.3" y2="169.77" stroke="#111" stroke-width="0.6" />
<line x1="74.5" y1="174.14" x2="76.3" y2="174.14" stroke="#111" stroke-width="0.6" />
<line x1="74.5" y1="177.24" x2="76.3" y2="177.24" stroke="#111" stroke-width="0.6" />
<line x1="74.5" y1="179.64" x2="76.3" y2="179.64" stroke="#111" stroke-width="0.6" />
<line x1="74.5" y1="181.61" x2="76.3" y2="181.61" stroke="#111" stroke-width="0.6" />
<line x1="74.5" y1="183.27" x2="76.3" y2="183.27" stroke="#111" stroke-width="0.6" />
<line x1="74.5" y1="184.71" x2="76.3" y2="184.71" stroke="#111" stroke-width="0.6" />
<line x1="74.5" y1="185.97" x2="76.3" y2="185.97" stroke="#111" stroke-width="0.6" />
<line x1="72.8" y1="187.11" x2="76.3" y2="187.11" stroke="#111" stroke-width="0.9" />
<text x="63.9" y="190.51" font-size="8.3" text-anchor="end" fill="#222" textLength="8.3" lengthAdjust="spacingAndGlyphs" >10</text>
<text x="64.3" y="188.01" font-size="6.4" text-anchor="start" fill="#222" textLength="5.6" lengthAdjust="spacingAndGlyphs" >–9</text>
<line x1="74.5" y1="194.58" x2="76.3" y2="194.58" stroke="#111" stroke-width="0.6" />
<line x1="74.5" y1="198.95" x2="76.3" y2="198.95" stroke="#111" stroke-width="0.6" />
<line x1="74.5" y1="202.05" x2="76.3" y2="202.05" stroke="#111" stroke-width="0.6" />
<line x1="74.5" y1="204.45" x2="76.3" y2="204.45" stroke="#111" stroke-width="0.6" />
<line x1="74.5" y1="206.42" x2="76.3" y2="206.42" stroke="#111" stroke-width="0.6" />
<line x1="74.5" y1="208.08" x2="76.3" y2="208.08" stroke="#111" stroke-width="0.6" />
<line x1="74.5" y1="209.52" x2="76.3" y2="209.52" stroke="#111" stroke-width="0.6" />
<line x1="74.5" y1="210.78" x2="76.3" y2="210.78" stroke="#111" stroke-width="0.6" />
<line x1="72.8" y1="211.92" x2="76.3" y2="211.92" stroke="#111" stroke-width="0.9" />
<text x="63.9" y="215.32" font-size="8.3" text-anchor="end" fill="#222" textLength="8.3" lengthAdjust="spacingAndGlyphs" >10</text>
<text x="64.3" y="212.82" font-size="6.4" text-anchor="start" fill="#222" textLength="5.6" lengthAdjust="spacingAndGlyphs" >–8</text>
<line x1="74.5" y1="219.39" x2="76.3" y2="219.39" stroke="#111" stroke-width="0.6" />
<line x1="74.5" y1="223.76" x2="76.3" y2="223.76" stroke="#111" stroke-width="0.6" />
<line x1="74.5" y1="226.86" x2="76.3" y2="226.86" stroke="#111" stroke-width="0.6" />
<line x1="74.5" y1="229.26" x2="76.3" y2="229.26" stroke="#111" stroke-width="0.6" />
<line x1="74.5" y1="231.23" x2="76.3" y2="231.23" stroke="#111" stroke-width="0.6" />
<line x1="74.5" y1="232.89" x2="76.3" y2="232.89" stroke="#111" stroke-width="0.6" />
<line x1="74.5" y1="234.33" x2="76.3" y2="234.33" stroke="#111" stroke-width="0.6" />
<line x1="74.5" y1="235.59" x2="76.3" y2="235.59" stroke="#111" stroke-width="0.6" />
<line x1="72.8" y1="236.73" x2="76.3" y2="236.73" stroke="#111" stroke-width="0.9" />
<text x="63.9" y="240.13" font-size="8.3" text-anchor="end" fill="#222" textLength="8.3" lengthAdjust="spacingAndGlyphs" >10</text>
<text x="64.3" y="237.63" font-size="6.4" text-anchor="start" fill="#222" textLength="5.6" lengthAdjust="spacingAndGlyphs" >–7</text>
<line x1="74.5" y1="244.2" x2="76.3" y2="244.2" stroke="#111" stroke-width="0.6" />
<line x1="74.5" y1="248.57" x2="76.3" y2="248.57" stroke="#111" stroke-width="0.6" />
<line x1="74.5" y1="251.67" x2="76.3" y2="251.67" stroke="#111" stroke-width="0.6" />
<line x1="74.5" y1="254.07" x2="76.3" y2="254.07" stroke="#111" stroke-width="0.6" />
<line x1="74.5" y1="256.04" x2="76.3" y2="256.04" stroke="#111" stroke-width="0.6" />
<line x1="74.5" y1="257.7" x2="76.3" y2="257.7" stroke="#111" stroke-width="0.6" />
<line x1="74.5" y1="259.14" x2="76.3" y2="259.14" stroke="#111" stroke-width="0.6" />
<line x1="74.5" y1="260.4" x2="76.3" y2="260.4" stroke="#111" stroke-width="0.6" />
<line x1="72.8" y1="261.54" x2="76.3" y2="261.54" stroke="#111" stroke-width="0.9" />
<text x="63.9" y="264.94" font-size="8.3" text-anchor="end" fill="#222" textLength="8.3" lengthAdjust="spacingAndGlyphs" >10</text>
<text x="64.3" y="262.44" font-size="6.4" text-anchor="start" fill="#222" textLength="5.6" lengthAdjust="spacingAndGlyphs" >–6</text>
<line x1="74.5" y1="269.01" x2="76.3" y2="269.01" stroke="#111" stroke-width="0.6" />
<line x1="74.5" y1="273.38" x2="76.3" y2="273.38" stroke="#111" stroke-width="0.6" />
<line x1="74.5" y1="276.48" x2="76.3" y2="276.48" stroke="#111" stroke-width="0.6" />
<line x1="74.5" y1="278.88" x2="76.3" y2="278.88" stroke="#111" stroke-width="0.6" />
<line x1="74.5" y1="280.85" x2="76.3" y2="280.85" stroke="#111" stroke-width="0.6" />
<line x1="74.5" y1="282.51" x2="76.3" y2="282.51" stroke="#111" stroke-width="0.6" />
<line x1="74.5" y1="283.95" x2="76.3" y2="283.95" stroke="#111" stroke-width="0.6" />
<line x1="74.5" y1="285.21" x2="76.3" y2="285.21" stroke="#111" stroke-width="0.6" />
<line x1="72.8" y1="286.35" x2="76.3" y2="286.35" stroke="#111" stroke-width="0.9" />
<text x="63.9" y="289.75" font-size="8.3" text-anchor="end" fill="#222" textLength="8.3" lengthAdjust="spacingAndGlyphs" >10</text>
<text x="64.3" y="287.25" font-size="6.4" text-anchor="start" fill="#222" textLength="5.6" lengthAdjust="spacingAndGlyphs" >–5</text>
<line x1="74.5" y1="293.82" x2="76.3" y2="293.82" stroke="#111" stroke-width="0.6" />
<line x1="74.5" y1="298.19" x2="76.3" y2="298.19" stroke="#111" stroke-width="0.6" />
<line x1="74.5" y1="301.29" x2="76.3" y2="301.29" stroke="#111" stroke-width="0.6" />
<line x1="74.5" y1="303.69" x2="76.3" y2="303.69" stroke="#111" stroke-width="0.6" />
<line x1="74.5" y1="305.66" x2="76.3" y2="305.66" stroke="#111" stroke-width="0.6" />
<line x1="74.5" y1="307.32" x2="76.3" y2="307.32" stroke="#111" stroke-width="0.6" />
<line x1="74.5" y1="308.76" x2="76.3" y2="308.76" stroke="#111" stroke-width="0.6" />
<line x1="74.5" y1="310.02" x2="76.3" y2="310.02" stroke="#111" stroke-width="0.6" />
<line x1="72.8" y1="311.16" x2="76.3" y2="311.16" stroke="#111" stroke-width="0.9" />
<text x="63.9" y="314.56" font-size="8.3" text-anchor="end" fill="#222" textLength="8.3" lengthAdjust="spacingAndGlyphs" >10</text>
<text x="64.3" y="312.06" font-size="6.4" text-anchor="start" fill="#222" textLength="5.6" lengthAdjust="spacingAndGlyphs" >–4</text>
<line x1="74.5" y1="318.63" x2="76.3" y2="318.63" stroke="#111" stroke-width="0.6" />
<line x1="74.5" y1="323" x2="76.3" y2="323" stroke="#111" stroke-width="0.6" />
<line x1="74.5" y1="326.1" x2="76.3" y2="326.1" stroke="#111" stroke-width="0.6" />
<line x1="74.5" y1="328.5" x2="76.3" y2="328.5" stroke="#111" stroke-width="0.6" />
<line x1="74.5" y1="330.47" x2="76.3" y2="330.47" stroke="#111" stroke-width="0.6" />
<line x1="74.5" y1="332.13" x2="76.3" y2="332.13" stroke="#111" stroke-width="0.6" />
<line x1="74.5" y1="333.57" x2="76.3" y2="333.57" stroke="#111" stroke-width="0.6" />
<line x1="74.5" y1="334.83" x2="76.3" y2="334.83" stroke="#111" stroke-width="0.6" />
<line x1="72.8" y1="335.97" x2="76.3" y2="335.97" stroke="#111" stroke-width="0.9" />
<text x="63.9" y="339.37" font-size="8.3" text-anchor="end" fill="#222" textLength="8.3" lengthAdjust="spacingAndGlyphs" >10</text>
<text x="64.3" y="336.87" font-size="6.4" text-anchor="start" fill="#222" textLength="5.6" lengthAdjust="spacingAndGlyphs" >–3</text>
<line x1="74.5" y1="343.44" x2="76.3" y2="343.44" stroke="#111" stroke-width="0.6" />
<line x1="74.5" y1="347.81" x2="76.3" y2="347.81" stroke="#111" stroke-width="0.6" />
<line x1="74.5" y1="350.91" x2="76.3" y2="350.91" stroke="#111" stroke-width="0.6" />
<line x1="74.5" y1="353.31" x2="76.3" y2="353.31" stroke="#111" stroke-width="0.6" />
<line x1="74.5" y1="355.28" x2="76.3" y2="355.28" stroke="#111" stroke-width="0.6" />
<line x1="74.5" y1="356.94" x2="76.3" y2="356.94" stroke="#111" stroke-width="0.6" />
<line x1="74.5" y1="358.38" x2="76.3" y2="358.38" stroke="#111" stroke-width="0.6" />
<line x1="74.5" y1="359.64" x2="76.3" y2="359.64" stroke="#111" stroke-width="0.6" />
<line x1="72.8" y1="360.78" x2="76.3" y2="360.78" stroke="#111" stroke-width="0.9" />
<text x="63.9" y="364.18" font-size="8.3" text-anchor="end" fill="#222" textLength="8.3" lengthAdjust="spacingAndGlyphs" >10</text>
<text x="64.3" y="361.68" font-size="6.4" text-anchor="start" fill="#222" textLength="5.6" lengthAdjust="spacingAndGlyphs" >–2</text>
<line x1="74.5" y1="368.25" x2="76.3" y2="368.25" stroke="#111" stroke-width="0.6" />
<line x1="74.5" y1="372.62" x2="76.3" y2="372.62" stroke="#111" stroke-width="0.6" />
<line x1="74.5" y1="375.72" x2="76.3" y2="375.72" stroke="#111" stroke-width="0.6" />
<line x1="74.5" y1="378.12" x2="76.3" y2="378.12" stroke="#111" stroke-width="0.6" />
<line x1="74.5" y1="380.09" x2="76.3" y2="380.09" stroke="#111" stroke-width="0.6" />
<line x1="74.5" y1="381.75" x2="76.3" y2="381.75" stroke="#111" stroke-width="0.6" />
<line x1="74.5" y1="383.19" x2="76.3" y2="383.19" stroke="#111" stroke-width="0.6" />
<line x1="74.5" y1="384.45" x2="76.3" y2="384.45" stroke="#111" stroke-width="0.6" />
<line x1="72.8" y1="385.59" x2="76.3" y2="385.59" stroke="#111" stroke-width="0.9" />
<text x="63.9" y="388.99" font-size="8.3" text-anchor="end" fill="#222" textLength="8.3" lengthAdjust="spacingAndGlyphs" >10</text>
<text x="64.3" y="386.49" font-size="6.4" text-anchor="start" fill="#222" textLength="5.6" lengthAdjust="spacingAndGlyphs" >–1</text>
<line x1="74.5" y1="393.06" x2="76.3" y2="393.06" stroke="#111" stroke-width="0.6" />
<line x1="74.5" y1="397.43" x2="76.3" y2="397.43" stroke="#111" stroke-width="0.6" />
<line x1="74.5" y1="400.53" x2="76.3" y2="400.53" stroke="#111" stroke-width="0.6" />
<line x1="74.5" y1="402.93" x2="76.3" y2="402.93" stroke="#111" stroke-width="0.6" />
<line x1="74.5" y1="404.9" x2="76.3" y2="404.9" stroke="#111" stroke-width="0.6" />
<line x1="74.5" y1="406.56" x2="76.3" y2="406.56" stroke="#111" stroke-width="0.6" />
<line x1="74.5" y1="408" x2="76.3" y2="408" stroke="#111" stroke-width="0.6" />
<line x1="74.5" y1="409.26" x2="76.3" y2="409.26" stroke="#111" stroke-width="0.6" />
<line x1="72.8" y1="410.4" x2="76.3" y2="410.4" stroke="#111" stroke-width="0.9" />
<text x="63.9" y="413.8" font-size="8.3" text-anchor="end" fill="#222" textLength="8.3" lengthAdjust="spacingAndGlyphs" >10</text>
<text x="64.3" y="411.3" font-size="6.4" text-anchor="start" fill="#222" textLength="3.2" lengthAdjust="spacingAndGlyphs" >0</text>
<text x="70.2" y="380.5" font-size="8.2" text-anchor="end" fill="#111" font-weight="bold" textLength="16.4" lengthAdjust="spacingAndGlyphs" >0.05</text>
<line x1="86" y1="412.3" x2="86" y2="414.7" stroke="#111" stroke-width="0.8" />
<line x1="95.39" y1="412.3" x2="95.39" y2="414.7" stroke="#111" stroke-width="0.8" />
<line x1="104.78" y1="412.3" x2="104.78" y2="414.7" stroke="#111" stroke-width="0.8" />
<line x1="114.17" y1="412.3" x2="114.17" y2="414.7" stroke="#111" stroke-width="0.8" />
<line x1="123.56" y1="412.3" x2="123.56" y2="414.7" stroke="#111" stroke-width="0.8" />
<line x1="132.95" y1="412.3" x2="132.95" y2="414.7" stroke="#111" stroke-width="0.8" />
<line x1="142.34" y1="412.3" x2="142.34" y2="414.7" stroke="#111" stroke-width="0.8" />
<line x1="151.73" y1="412.3" x2="151.73" y2="414.7" stroke="#111" stroke-width="0.8" />
<line x1="161.12" y1="412.3" x2="161.12" y2="414.7" stroke="#111" stroke-width="0.8" />
<line x1="170.51" y1="412.3" x2="170.51" y2="414.7" stroke="#111" stroke-width="0.8" />
<line x1="179.9" y1="412.3" x2="179.9" y2="414.7" stroke="#111" stroke-width="0.8" />
<line x1="189.29" y1="412.3" x2="189.29" y2="414.7" stroke="#111" stroke-width="0.8" />
<line x1="198.68" y1="412.3" x2="198.68" y2="414.7" stroke="#111" stroke-width="0.8" />
<line x1="208.07" y1="412.3" x2="208.07" y2="414.7" stroke="#111" stroke-width="0.8" />
<line x1="217.46" y1="412.3" x2="217.46" y2="414.7" stroke="#111" stroke-width="0.8" />
<line x1="226.85" y1="412.3" x2="226.85" y2="414.7" stroke="#111" stroke-width="0.8" />
<line x1="236.24" y1="412.3" x2="236.24" y2="414.7" stroke="#111" stroke-width="0.8" />
<line x1="245.63" y1="412.3" x2="245.63" y2="414.7" stroke="#111" stroke-width="0.8" />
<line x1="255.02" y1="412.3" x2="255.02" y2="414.7" stroke="#111" stroke-width="0.8" />
<line x1="264.41" y1="412.3" x2="264.41" y2="414.7" stroke="#111" stroke-width="0.8" />
<line x1="273.8" y1="412.3" x2="273.8" y2="414.7" stroke="#111" stroke-width="0.8" />
<text x="83.6" y="425" font-size="8.2" text-anchor="middle" fill="#222" textLength="17" lengthAdjust="spacingAndGlyphs" >–100</text>
<text x="122.16" y="425" font-size="8.2" text-anchor="middle" fill="#222" textLength="14.4" lengthAdjust="spacingAndGlyphs" >–80</text>
<text x="159.72" y="425" font-size="8.2" text-anchor="middle" fill="#222" textLength="14.4" lengthAdjust="spacingAndGlyphs" >–60</text>
<text x="197.28" y="425" font-size="8.2" text-anchor="middle" fill="#222" textLength="14.4" lengthAdjust="spacingAndGlyphs" >–40</text>
<text x="234.84" y="425" font-size="8.2" text-anchor="middle" fill="#222" textLength="14.4" lengthAdjust="spacingAndGlyphs" >–20</text>
<text x="273.6" y="425" font-size="8.2" text-anchor="middle" fill="#222" textLength="4.3" lengthAdjust="spacingAndGlyphs" >0</text>
<line x1="278.2" y1="412.3" x2="278.2" y2="414.9" stroke="#111" stroke-width="0.7" />
<line x1="280.91" y1="412.3" x2="280.91" y2="414.3" stroke="#111" stroke-width="0.7" />
<line x1="283.62" y1="412.3" x2="283.62" y2="414.3" stroke="#111" stroke-width="0.7" />
<line x1="286.33" y1="412.3" x2="286.33" y2="414.3" stroke="#111" stroke-width="0.7" />
<line x1="289.05" y1="412.3" x2="289.05" y2="414.3" stroke="#111" stroke-width="0.7" />
<line x1="291.76" y1="412.3" x2="291.76" y2="414.3" stroke="#111" stroke-width="0.7" />
<line x1="294.47" y1="412.3" x2="294.47" y2="414.3" stroke="#111" stroke-width="0.7" />
<line x1="297.18" y1="412.3" x2="297.18" y2="414.3" stroke="#111" stroke-width="0.7" />
<line x1="299.89" y1="412.3" x2="299.89" y2="414.3" stroke="#111" stroke-width="0.7" />
<line x1="302.6" y1="412.3" x2="302.6" y2="414.3" stroke="#111" stroke-width="0.7" />
<line x1="305.31" y1="412.3" x2="305.31" y2="414.3" stroke="#111" stroke-width="0.7" />
<line x1="308.02" y1="412.3" x2="308.02" y2="414.3" stroke="#111" stroke-width="0.7" />
<line x1="310.74" y1="412.3" x2="310.74" y2="414.9" stroke="#111" stroke-width="0.7" />
<line x1="313.45" y1="412.3" x2="313.45" y2="414.3" stroke="#111" stroke-width="0.7" />
<line x1="316.16" y1="412.3" x2="316.16" y2="414.3" stroke="#111" stroke-width="0.7" />
<line x1="318.87" y1="412.3" x2="318.87" y2="414.3" stroke="#111" stroke-width="0.7" />
<line x1="321.58" y1="412.3" x2="321.58" y2="414.3" stroke="#111" stroke-width="0.7" />
<line x1="324.29" y1="412.3" x2="324.29" y2="414.3" stroke="#111" stroke-width="0.7" />
<line x1="327" y1="412.3" x2="327" y2="414.3" stroke="#111" stroke-width="0.7" />
<line x1="329.71" y1="412.3" x2="329.71" y2="414.3" stroke="#111" stroke-width="0.7" />
<line x1="332.42" y1="412.3" x2="332.42" y2="414.3" stroke="#111" stroke-width="0.7" />
<line x1="335.14" y1="412.3" x2="335.14" y2="414.3" stroke="#111" stroke-width="0.7" />
<line x1="337.85" y1="412.3" x2="337.85" y2="414.3" stroke="#111" stroke-width="0.7" />
<line x1="340.56" y1="412.3" x2="340.56" y2="414.3" stroke="#111" stroke-width="0.7" />
<line x1="343.27" y1="412.3" x2="343.27" y2="414.9" stroke="#111" stroke-width="0.7" />
<line x1="345.98" y1="412.3" x2="345.98" y2="414.3" stroke="#111" stroke-width="0.7" />
<line x1="348.69" y1="412.3" x2="348.69" y2="414.3" stroke="#111" stroke-width="0.7" />
<line x1="351.4" y1="412.3" x2="351.4" y2="414.3" stroke="#111" stroke-width="0.7" />
<line x1="354.12" y1="412.3" x2="354.12" y2="414.3" stroke="#111" stroke-width="0.7" />
<line x1="356.83" y1="412.3" x2="356.83" y2="414.3" stroke="#111" stroke-width="0.7" />
<line x1="359.54" y1="412.3" x2="359.54" y2="414.3" stroke="#111" stroke-width="0.7" />
<line x1="362.25" y1="412.3" x2="362.25" y2="414.3" stroke="#111" stroke-width="0.7" />
<line x1="364.96" y1="412.3" x2="364.96" y2="414.3" stroke="#111" stroke-width="0.7" />
<line x1="367.67" y1="412.3" x2="367.67" y2="414.3" stroke="#111" stroke-width="0.7" />
<line x1="370.38" y1="412.3" x2="370.38" y2="414.3" stroke="#111" stroke-width="0.7" />
<line x1="373.09" y1="412.3" x2="373.09" y2="414.3" stroke="#111" stroke-width="0.7" />
<line x1="375.8" y1="412.3" x2="375.8" y2="414.9" stroke="#111" stroke-width="0.7" />
<line x1="378.52" y1="412.3" x2="378.52" y2="414.3" stroke="#111" stroke-width="0.7" />
<line x1="381.23" y1="412.3" x2="381.23" y2="414.3" stroke="#111" stroke-width="0.7" />
<line x1="383.94" y1="412.3" x2="383.94" y2="414.3" stroke="#111" stroke-width="0.7" />
<line x1="386.65" y1="412.3" x2="386.65" y2="414.3" stroke="#111" stroke-width="0.7" />
<line x1="389.36" y1="412.3" x2="389.36" y2="414.3" stroke="#111" stroke-width="0.7" />
<line x1="392.07" y1="412.3" x2="392.07" y2="414.3" stroke="#111" stroke-width="0.7" />
<line x1="394.78" y1="412.3" x2="394.78" y2="414.3" stroke="#111" stroke-width="0.7" />
<line x1="397.5" y1="412.3" x2="397.5" y2="414.3" stroke="#111" stroke-width="0.7" />
<line x1="400.21" y1="412.3" x2="400.21" y2="414.3" stroke="#111" stroke-width="0.7" />
<line x1="402.92" y1="412.3" x2="402.92" y2="414.3" stroke="#111" stroke-width="0.7" />
<line x1="405.63" y1="412.3" x2="405.63" y2="414.3" stroke="#111" stroke-width="0.7" />
<line x1="408.34" y1="412.3" x2="408.34" y2="414.9" stroke="#111" stroke-width="0.7" />
<line x1="411.05" y1="412.3" x2="411.05" y2="414.3" stroke="#111" stroke-width="0.7" />
<line x1="413.76" y1="412.3" x2="413.76" y2="414.3" stroke="#111" stroke-width="0.7" />
<line x1="416.47" y1="412.3" x2="416.47" y2="414.3" stroke="#111" stroke-width="0.7" />
<line x1="419.18" y1="412.3" x2="419.18" y2="414.3" stroke="#111" stroke-width="0.7" />
<line x1="421.9" y1="412.3" x2="421.9" y2="414.3" stroke="#111" stroke-width="0.7" />
<line x1="424.61" y1="412.3" x2="424.61" y2="414.3" stroke="#111" stroke-width="0.7" />
<line x1="427.32" y1="412.3" x2="427.32" y2="414.3" stroke="#111" stroke-width="0.7" />
<line x1="430.03" y1="412.3" x2="430.03" y2="414.3" stroke="#111" stroke-width="0.7" />
<line x1="432.74" y1="412.3" x2="432.74" y2="414.3" stroke="#111" stroke-width="0.7" />
<line x1="435.45" y1="412.3" x2="435.45" y2="414.3" stroke="#111" stroke-width="0.7" />
<line x1="438.16" y1="412.3" x2="438.16" y2="414.3" stroke="#111" stroke-width="0.7" />
<line x1="440.88" y1="412.3" x2="440.88" y2="414.9" stroke="#111" stroke-width="0.7" />
<line x1="443.59" y1="412.3" x2="443.59" y2="414.3" stroke="#111" stroke-width="0.7" />
<line x1="446.3" y1="412.3" x2="446.3" y2="414.3" stroke="#111" stroke-width="0.7" />
<line x1="449.01" y1="412.3" x2="449.01" y2="414.3" stroke="#111" stroke-width="0.7" />
<line x1="451.72" y1="412.3" x2="451.72" y2="414.3" stroke="#111" stroke-width="0.7" />
<line x1="454.43" y1="412.3" x2="454.43" y2="414.3" stroke="#111" stroke-width="0.7" />
<line x1="457.14" y1="412.3" x2="457.14" y2="414.3" stroke="#111" stroke-width="0.7" />
<line x1="459.85" y1="412.3" x2="459.85" y2="414.3" stroke="#111" stroke-width="0.7" />
<line x1="462.56" y1="412.3" x2="462.56" y2="414.3" stroke="#111" stroke-width="0.7" />
<line x1="465.28" y1="412.3" x2="465.28" y2="414.3" stroke="#111" stroke-width="0.7" />
<line x1="467.99" y1="412.3" x2="467.99" y2="414.3" stroke="#111" stroke-width="0.7" />
<line x1="470.7" y1="412.3" x2="470.7" y2="414.3" stroke="#111" stroke-width="0.7" />
<line x1="473.41" y1="412.3" x2="473.41" y2="414.9" stroke="#111" stroke-width="0.7" />
<text x="310.74" y="425" font-size="8.2" text-anchor="middle" fill="#222" textLength="8.4" lengthAdjust="spacingAndGlyphs" >50</text>
<text x="343.27" y="425" font-size="8.2" text-anchor="middle" fill="#222" textLength="12.6" lengthAdjust="spacingAndGlyphs" >100</text>
<text x="375.8" y="425" font-size="8.2" text-anchor="middle" fill="#222" textLength="12.6" lengthAdjust="spacingAndGlyphs" >150</text>
<text x="408.34" y="425" font-size="8.2" text-anchor="middle" fill="#222" textLength="12.6" lengthAdjust="spacingAndGlyphs" >200</text>
<text x="440.88" y="425" font-size="8.2" text-anchor="middle" fill="#222" textLength="12.6" lengthAdjust="spacingAndGlyphs" >250</text>
<text x="473.41" y="425" font-size="8.2" text-anchor="middle" fill="#222" textLength="12.6" lengthAdjust="spacingAndGlyphs" >300</text>
<rect x="275.4" y="409.6" width="2.6" height="6" fill="#fff"/>
<line x1="273.6" y1="410.4" x2="273.6" y2="415.3" stroke="#111" stroke-width="0.8" />
<line x1="278.4" y1="410.4" x2="278.4" y2="415.3" stroke="#111" stroke-width="0.8" />
<text x="214.8" y="439" font-size="9" text-anchor="start" fill="#222" textLength="127.4" lengthAdjust="spacingAndGlyphs" >% Difference in patients at M12 vs. HD</text>
<text transform="translate(47,285.5) rotate(-90)" font-size="10.5" text-anchor="middle" fill="#222" textLength="24" lengthAdjust="spacingAndGlyphs">p-value</text>
<text x="241.3" y="169.5" font-size="9.6" text-anchor="end" fill="#000" font-weight="bold" textLength="13.3" lengthAdjust="spacingAndGlyphs" >HD</text>
<path d="M241.3,172.3 L224,172.3 L224,170.6 L219.5,173.4 L224,176.2 L224,174.5 L241.3,174.5 Z" fill="#000"/>
<text x="293.8" y="170.3" font-size="9.6" text-anchor="start" fill="#c41230" font-weight="bold" textLength="69.7" lengthAdjust="spacingAndGlyphs" >Patients at M12</text>
<path d="M293.8,172.3 L312.5,172.3 L312.5,170.6 L317,173.4 L312.5,176.2 L312.5,174.5 L293.8,174.5 Z" fill="#c41230"/>
<circle cx="122.2" cy="175.4" r="1.7" fill="#000" />
<circle cx="174.8" cy="213.9" r="1.7" fill="#000" />
<circle cx="152.8" cy="225.7" r="1.7" fill="#000" />
<circle cx="159.8" cy="232.4" r="1.7" fill="#000" />
<circle cx="115.9" cy="265.8" r="1.7" fill="#000" />
<circle cx="163.7" cy="269.2" r="1.7" fill="#000" />
<circle cx="152.8" cy="293.5" r="1.7" fill="#000" />
<circle cx="127.2" cy="303.4" r="1.7" fill="#000" />
<circle cx="160.2" cy="307.5" r="1.7" fill="#000" />
<circle cx="151.2" cy="311.7" r="1.7" fill="#000" />
<circle cx="157.9" cy="313.3" r="1.7" fill="#000" />
<circle cx="150.5" cy="319.3" r="1.7" fill="#000" />
<circle cx="188.5" cy="300.1" r="1.7" fill="#000" />
<circle cx="202.8" cy="300.3" r="1.7" fill="#000" />
<circle cx="187.4" cy="316.5" r="1.7" fill="#000" />
<circle cx="186.9" cy="337.2" r="1.7" fill="#000" />
<circle cx="185.1" cy="338.2" r="1.7" fill="#000" />
<circle cx="174.5" cy="345.3" r="1.7" fill="#000" />
<circle cx="197.3" cy="349.7" r="1.7" fill="#000" />
<circle cx="186.9" cy="355" r="1.7" fill="#000" />
<text x="100.2" y="185.1" font-size="8.5" text-anchor="start" fill="#222" textLength="43.9" lengthAdjust="spacingAndGlyphs" >% Naive CD4</text>
<text x="160.9" y="208.8" font-size="8.5" text-anchor="start" fill="#222" textLength="27" lengthAdjust="spacingAndGlyphs" >% CD4<tspan font-size="7.4" baseline-shift="2.3">+</tspan></text>
<text x="134.8" y="221.5" font-size="8.5" text-anchor="start" fill="#222" textLength="36.3" lengthAdjust="spacingAndGlyphs" >% CM CD4</text>
<text x="164.8" y="235.4" font-size="8.5" text-anchor="start" fill="#222" textLength="45" lengthAdjust="spacingAndGlyphs" >% Naive/CD4</text>
<text x="94.9" y="262.3" font-size="8.5" text-anchor="start" fill="#222" textLength="57.3" lengthAdjust="spacingAndGlyphs" >% Treg RA<tspan font-size="7.4" baseline-shift="2.3">+</tspan>DR<tspan font-size="5.6" baseline-shift="super">neg</tspan></text>
<text x="168.3" y="272" font-size="8.5" text-anchor="start" fill="#222" textLength="19.6" lengthAdjust="spacingAndGlyphs" >% ILC</text>
<text x="138.8" y="290" font-size="8.5" text-anchor="start" fill="#222" textLength="22.6" lengthAdjust="spacingAndGlyphs" >% ILC1</text>
<text x="114.1" y="299.2" font-size="8.5" text-anchor="start" fill="#222" textLength="26.5" lengthAdjust="spacingAndGlyphs" >% MAIT</text>
<text x="148.7" y="305" font-size="8.5" text-anchor="start" fill="#222" textLength="22.4" lengthAdjust="spacingAndGlyphs" >% ILC2</text>
<text x="101.8" y="314.9" font-size="8.5" text-anchor="start" fill="#222" textLength="44.6" lengthAdjust="spacingAndGlyphs" >% Naive/CD8</text>
<text x="162.1" y="316.5" font-size="8.5" text-anchor="start" fill="#222" textLength="22.4" lengthAdjust="spacingAndGlyphs" >% ILC3</text>
<text x="117.1" y="330.4" font-size="8.5" text-anchor="start" fill="#222" textLength="58.1" lengthAdjust="spacingAndGlyphs" >% RA<tspan font-size="7.4" baseline-shift="2.3">+</tspan>DR<tspan font-size="5.6" baseline-shift="super">neg</tspan>/Treg</text>
<text x="176.1" y="297.3" font-size="8.5" text-anchor="start" fill="#222" textLength="23.5" lengthAdjust="spacingAndGlyphs" >% Treg</text>
<text x="195" y="311.6" font-size="8.5" text-anchor="start" fill="#222" textLength="43.8" lengthAdjust="spacingAndGlyphs" >% CD4<tspan font-size="7.4" baseline-shift="2.3">+</tspan>/CD3</text>
<text x="179.3" y="326.2" font-size="8.5" text-anchor="start" fill="#222" textLength="63" lengthAdjust="spacingAndGlyphs" >% Treg RA<tspan font-size="5.6" baseline-shift="super">neg</tspan>DR<tspan font-size="5.6" baseline-shift="super">neg</tspan></text>
<text x="191.1" y="338.8" font-size="8.5" text-anchor="start" fill="#222" textLength="44.3" lengthAdjust="spacingAndGlyphs" >% Naive CD8</text>
<text x="158.5" y="341.2" font-size="8.5" text-anchor="start" fill="#222" textLength="22.7" lengthAdjust="spacingAndGlyphs" >% pDC</text>
<text x="139.5" y="354.3" font-size="8.5" text-anchor="start" fill="#222" textLength="39.3" lengthAdjust="spacingAndGlyphs" >% MAIT/CD3</text>
<text x="201.9" y="352.7" font-size="8.5" text-anchor="start" fill="#222" textLength="37.6" lengthAdjust="spacingAndGlyphs" >% CM/CD8</text>
<text x="165.7" y="366.3" font-size="8.5" text-anchor="start" fill="#222" textLength="43.1" lengthAdjust="spacingAndGlyphs" >% CD4<tspan font-size="7.4" baseline-shift="2.3">+</tspan>CD8<tspan font-size="7.4" baseline-shift="2.3">+</tspan></text>
<circle cx="256.2" cy="375.6" r="1.8" fill="#fff" stroke="#4a0a58" stroke-width="0.8"/>
<text x="246.9" y="371.2" font-size="8.5" text-anchor="start" fill="#222" textLength="23" lengthAdjust="spacingAndGlyphs" >% CD3<tspan font-size="7.4" baseline-shift="2.3">+</tspan></text>
<circle cx="374.6" cy="186.7" r="1.9" fill="#c41230" />
<circle cx="361.9" cy="278.6" r="1.9" fill="#c41230" />
<circle cx="327.3" cy="317.4" r="1.9" fill="#c41230" />
<circle cx="339.5" cy="339.7" r="1.9" fill="#c41230" />
<circle cx="414" cy="335.8" r="1.9" fill="#c41230" />
<circle cx="322.7" cy="354.4" r="1.9" fill="#c41230" />
<circle cx="305.4" cy="370.3" r="1.9" fill="#c41230" />
<circle cx="348.8" cy="368.7" r="1.9" fill="#c41230" />
<circle cx="384.3" cy="367" r="1.9" fill="#c41230" />
<circle cx="425.4" cy="377.7" r="1.9" fill="#c41230" />
<text x="379.7" y="189.6" font-size="8.5" text-anchor="start" fill="#222" textLength="36.5" lengthAdjust="spacingAndGlyphs" >% EM/CD4</text>
<text x="333.1" y="273.5" font-size="8.5" text-anchor="start" fill="#222" textLength="58.8" lengthAdjust="spacingAndGlyphs" >% RA<tspan font-size="5.6" baseline-shift="super">neg</tspan>DR<tspan font-size="7.4" baseline-shift="2.3">+</tspan>/Treg</text>
<text x="305.4" y="312.3" font-size="8.5" text-anchor="start" fill="#222" textLength="43.8" lengthAdjust="spacingAndGlyphs" >% CD8<tspan font-size="7.4" baseline-shift="2.3">+</tspan>/CD3</text>
<text x="323.2" y="334.9" font-size="8.5" text-anchor="start" fill="#222" textLength="33" lengthAdjust="spacingAndGlyphs" >% eMDSC</text>
<text x="301.5" y="349.5" font-size="8.5" text-anchor="start" fill="#222" textLength="46.6" lengthAdjust="spacingAndGlyphs" >% EMRA/CD8</text>
<text x="291.5" y="365.5" font-size="8.5" text-anchor="start" fill="#222" textLength="37" lengthAdjust="spacingAndGlyphs" >% EM/CD8</text>
<text x="336.5" y="363.8" font-size="8.5" text-anchor="start" fill="#222" textLength="32.3" lengthAdjust="spacingAndGlyphs" >% NK56<tspan font-size="5.6" baseline-shift="super">hi</tspan></text>
<text x="374.6" y="363" font-size="8.5" text-anchor="start" fill="#222" textLength="37.1" lengthAdjust="spacingAndGlyphs" >% G-MDSC</text>
<text x="388.1" y="331.2" font-size="8.5" text-anchor="start" fill="#222" textLength="46.3" lengthAdjust="spacingAndGlyphs" >% EMRA/CD4</text>
<text x="402.7" y="373" font-size="8.5" text-anchor="start" fill="#222" textLength="45.6" lengthAdjust="spacingAndGlyphs" >% EMRA CD8</text>
<circle cx="157" cy="386.7" r="1.25" fill="#4a0a58" />
<circle cx="167.2" cy="381.4" r="1.25" fill="#4a0a58" />
<circle cx="176.6" cy="381.4" r="1.25" fill="#4a0a58" />
<circle cx="181.5" cy="381" r="1.25" fill="#4a0a58" />
<circle cx="185.4" cy="402.4" r="1.25" fill="#4a0a58" />
<circle cx="202.9" cy="385.3" r="1.25" fill="#4a0a58" />
<circle cx="202.9" cy="388" r="1.25" fill="#4a0a58" />
<circle cx="207.2" cy="389.1" r="1.25" fill="#4a0a58" />
<circle cx="212.5" cy="386.2" r="1.25" fill="#4a0a58" />
<circle cx="224.7" cy="385.3" r="1.25" fill="#4a0a58" />
<circle cx="240.8" cy="385.7" r="1.25" fill="#4a0a58" />
<circle cx="203.3" cy="394.3" r="1.25" fill="#4a0a58" />
<circle cx="201.4" cy="398.7" r="1.25" fill="#4a0a58" />
<circle cx="203.7" cy="398.7" r="1.25" fill="#4a0a58" />
<circle cx="207.2" cy="400.3" r="1.25" fill="#4a0a58" />
<circle cx="224.7" cy="394.9" r="1.25" fill="#4a0a58" />
<circle cx="220.8" cy="399.1" r="1.25" fill="#4a0a58" />
<circle cx="233.1" cy="398.5" r="1.25" fill="#4a0a58" />
<circle cx="239.7" cy="399.9" r="1.25" fill="#4a0a58" />
<circle cx="240.4" cy="400.7" r="1.25" fill="#4a0a58" />
<circle cx="199.1" cy="405.3" r="1.25" fill="#4a0a58" />
<circle cx="205.6" cy="406.6" r="1.25" fill="#4a0a58" />
<circle cx="218.3" cy="408.7" r="1.25" fill="#4a0a58" />
<circle cx="220.8" cy="410.5" r="1.25" fill="#4a0a58" />
<circle cx="250" cy="385.7" r="1.25" fill="#4a0a58" />
<circle cx="254.3" cy="383.2" r="1.25" fill="#4a0a58" />
<circle cx="247.5" cy="391.4" r="1.25" fill="#4a0a58" />
<circle cx="254.3" cy="391.4" r="1.25" fill="#4a0a58" />
<circle cx="254.3" cy="394.9" r="1.25" fill="#4a0a58" />
<circle cx="245.6" cy="400.1" r="1.25" fill="#4a0a58" />
<circle cx="252.9" cy="399.9" r="1.25" fill="#4a0a58" />
<circle cx="248.1" cy="403" r="1.25" fill="#4a0a58" />
<circle cx="249.5" cy="403" r="1.25" fill="#4a0a58" />
<circle cx="263.9" cy="397.8" r="1.25" fill="#4a0a58" />
<circle cx="267.2" cy="398.2" r="1.25" fill="#4a0a58" />
<circle cx="270.2" cy="398.7" r="1.25" fill="#4a0a58" />
<circle cx="245.6" cy="410.4" r="1.25" fill="#4a0a58" />
<circle cx="249.5" cy="410.4" r="1.25" fill="#4a0a58" />
<circle cx="253.3" cy="410.3" r="1.25" fill="#4a0a58" />
<circle cx="255.2" cy="408.2" r="1.25" fill="#4a0a58" />
<circle cx="256.8" cy="406.4" r="1.25" fill="#4a0a58" />
<circle cx="260.6" cy="406.8" r="1.25" fill="#4a0a58" />
<circle cx="260.6" cy="409.7" r="1.25" fill="#4a0a58" />
<circle cx="264.8" cy="406.4" r="1.25" fill="#4a0a58" />
<circle cx="262.9" cy="410.3" r="1.25" fill="#4a0a58" />
<circle cx="265.8" cy="410.3" r="1.25" fill="#4a0a58" />
<circle cx="270.6" cy="404.9" r="1.25" fill="#4a0a58" />
<circle cx="270.6" cy="406.8" r="1.25" fill="#4a0a58" />
<circle cx="270.6" cy="410.3" r="1.25" fill="#4a0a58" />
<circle cx="258.7" cy="408.7" r="1.25" fill="#4a0a58" />
<circle cx="271" cy="398.2" r="1.25" fill="#4a0a58" />
<circle cx="271" cy="403.9" r="1.25" fill="#4a0a58" />
<circle cx="271.9" cy="405.9" r="1.25" fill="#4a0a58" />
<circle cx="279.6" cy="402" r="1.25" fill="#4a0a58" />
<circle cx="280.6" cy="405.9" r="1.25" fill="#4a0a58" />
<circle cx="282.5" cy="405.9" r="1.25" fill="#4a0a58" />
<circle cx="280.6" cy="407.8" r="1.25" fill="#4a0a58" />
<circle cx="282.5" cy="407.8" r="1.25" fill="#4a0a58" />
<circle cx="280.6" cy="410.1" r="1.25" fill="#4a0a58" />
<circle cx="282.5" cy="410.1" r="1.25" fill="#4a0a58" />
<circle cx="285.4" cy="385.7" r="1.25" fill="#4a0a58" />
<circle cx="287.3" cy="386" r="1.25" fill="#4a0a58" />
<circle cx="288.8" cy="386" r="1.25" fill="#4a0a58" />
<circle cx="285" cy="390.5" r="1.25" fill="#4a0a58" />
<circle cx="283.1" cy="393.7" r="1.25" fill="#4a0a58" />
<circle cx="291.2" cy="387.6" r="1.25" fill="#4a0a58" />
<circle cx="294.2" cy="387.2" r="1.25" fill="#4a0a58" />
<circle cx="292.7" cy="391" r="1.25" fill="#4a0a58" />
<circle cx="287.7" cy="397.8" r="1.25" fill="#4a0a58" />
<circle cx="287.7" cy="400.1" r="1.25" fill="#4a0a58" />
<circle cx="290.8" cy="397.8" r="1.25" fill="#4a0a58" />
<circle cx="292.1" cy="400.7" r="1.25" fill="#4a0a58" />
<circle cx="294" cy="403" r="1.25" fill="#4a0a58" />
<circle cx="289.2" cy="404.9" r="1.25" fill="#4a0a58" />
<circle cx="290.2" cy="406.8" r="1.25" fill="#4a0a58" />
<circle cx="287.3" cy="410.3" r="1.25" fill="#4a0a58" />
<circle cx="289.2" cy="410.3" r="1.25" fill="#4a0a58" />
<circle cx="291.2" cy="410.3" r="1.25" fill="#4a0a58" />
<circle cx="294.6" cy="410.3" r="1.25" fill="#4a0a58" />
<circle cx="298.8" cy="410.3" r="1.25" fill="#4a0a58" />
<circle cx="299.8" cy="385.3" r="1.25" fill="#4a0a58" />
<circle cx="302.3" cy="386" r="1.25" fill="#4a0a58" />
<circle cx="298.8" cy="392.4" r="1.25" fill="#4a0a58" />
<circle cx="299.8" cy="394.3" r="1.25" fill="#4a0a58" />
<circle cx="298.8" cy="401" r="1.25" fill="#4a0a58" />
<circle cx="307.5" cy="381.4" r="1.25" fill="#4a0a58" />
<circle cx="308.5" cy="387.6" r="1.25" fill="#4a0a58" />
<circle cx="311.3" cy="392.8" r="1.25" fill="#4a0a58" />
<circle cx="318.1" cy="386.6" r="1.25" fill="#4a0a58" />
<circle cx="319.4" cy="383.2" r="1.25" fill="#4a0a58" />
<circle cx="318.1" cy="397.2" r="1.25" fill="#4a0a58" />
<circle cx="305.6" cy="399.5" r="1.25" fill="#4a0a58" />
<circle cx="306.9" cy="405.3" r="1.25" fill="#4a0a58" />
<circle cx="311.3" cy="405.3" r="1.25" fill="#4a0a58" />
<circle cx="306.9" cy="410.3" r="1.25" fill="#4a0a58" />
<circle cx="329.6" cy="389.5" r="1.25" fill="#4a0a58" />
<circle cx="353.1" cy="386.2" r="1.25" fill="#4a0a58" />
<text x="5.6" y="463.4" font-size="11.6" text-anchor="start" fill="#000" font-weight="bold" >D</text>
<text x="46.7" y="462.6" font-size="10.3" text-anchor="start" fill="#111" font-style="italic" textLength="361.3" lengthAdjust="spacingAndGlyphs" >Phenotype alterations of T and NK cell subsets in patients at M12 vs. healthy donors:</text>
<text x="146.6" y="478.6" font-size="10" text-anchor="middle" fill="#222" textLength="48.3" lengthAdjust="spacingAndGlyphs" >CD4 T cells</text>
<line x1="96.9" y1="481.3" x2="196.3" y2="481.3" stroke="#444" stroke-width="0.8" />
<text x="247.9" y="478.6" font-size="10" text-anchor="middle" fill="#222" textLength="48.1" lengthAdjust="spacingAndGlyphs" >CD8 T cells</text>
<line x1="206.6" y1="481.3" x2="289.6" y2="481.3" stroke="#444" stroke-width="0.8" />
<text transform="translate(104.67,508.7) rotate(-90)" font-size="8.1" fill="#222">Bulk</text>
<text transform="translate(122.81,508.7) rotate(-90)" font-size="8.1" fill="#222">Naïve</text>
<text transform="translate(140.95,508.7) rotate(-90)" font-size="8.1" fill="#222">CM</text>
<text transform="translate(159.09,508.7) rotate(-90)" font-size="8.1" fill="#222">EM</text>
<text transform="translate(177.23,508.7) rotate(-90)" font-size="8.1" fill="#222">EMRA</text>
<text transform="translate(195.37,508.7) rotate(-90)" font-size="8.1" fill="#222">Tregs</text>
<text transform="translate(213.51,508.7) rotate(-90)" font-size="8.1" fill="#222">Bulk</text>
<text transform="translate(231.65,508.7) rotate(-90)" font-size="8.1" fill="#222">Naïve</text>
<text transform="translate(249.79,508.7) rotate(-90)" font-size="8.1" fill="#222">CM</text>
<text transform="translate(267.93,508.7) rotate(-90)" font-size="8.1" fill="#222">EM</text>
<text transform="translate(286.07,508.7) rotate(-90)" font-size="8.1" fill="#222">EMRA</text>
<text transform="translate(304.21,508.7) rotate(-90)" font-size="8.1" fill="#222">MAITs</text>
<text transform="translate(322.35,508.7) rotate(-90)" font-size="8.1" fill="#222">γδ T</text>
<text transform="translate(340.49,508.7) rotate(-90)" font-size="8.1" fill="#222">NK CD56<tspan font-size="5" baseline-shift="super">+</tspan></text>
<text transform="translate(358.63,508.7) rotate(-90)" font-size="8.1" fill="#222">NK CD56<tspan font-size="5" baseline-shift="super">hi</tspan></text>
<text x="89.1" y="523.78" font-size="8.3" text-anchor="end" fill="#222" textLength="22.5" lengthAdjust="spacingAndGlyphs" >% PD1</text>
<text x="89.1" y="541.94" font-size="8.3" text-anchor="end" fill="#222" textLength="32.4" lengthAdjust="spacingAndGlyphs" >% CTLA4</text>
<text x="89.1" y="560.1" font-size="8.3" text-anchor="end" fill="#222" textLength="27.5" lengthAdjust="spacingAndGlyphs" >% TIGIT</text>
<text x="89.1" y="578.26" font-size="8.3" text-anchor="end" fill="#222" textLength="28.6" lengthAdjust="spacingAndGlyphs" >% LAG3</text>
<text x="89.1" y="596.42" font-size="8.3" text-anchor="end" fill="#222" textLength="29.1" lengthAdjust="spacingAndGlyphs" >% Tim-3</text>
<text x="89.1" y="614.58" font-size="8.3" text-anchor="end" fill="#222" textLength="27.7" lengthAdjust="spacingAndGlyphs" >% BTLA</text>
<text x="89.1" y="632.74" font-size="8.3" text-anchor="end" fill="#222" textLength="28.6" lengthAdjust="spacingAndGlyphs" >% CD39</text>
<text x="89.1" y="650.9" font-size="8.3" text-anchor="end" fill="#222" textLength="28.6" lengthAdjust="spacingAndGlyphs" >% CD73</text>
<text x="89.1" y="669.06" font-size="8.3" text-anchor="end" fill="#222" textLength="36.5" lengthAdjust="spacingAndGlyphs" >GzmB MFI</text>
<line x1="92.3" y1="511.9" x2="365.2" y2="511.9" stroke="#7a8594" stroke-width="0.9" />
<line x1="92.3" y1="530.06" x2="365.2" y2="530.06" stroke="#7a8594" stroke-width="0.9" />
<line x1="92.3" y1="548.22" x2="365.2" y2="548.22" stroke="#7a8594" stroke-width="0.9" />
<line x1="92.3" y1="566.38" x2="365.2" y2="566.38" stroke="#7a8594" stroke-width="0.9" />
<line x1="92.3" y1="584.54" x2="365.2" y2="584.54" stroke="#7a8594" stroke-width="0.9" />
<line x1="92.3" y1="602.7" x2="365.2" y2="602.7" stroke="#7a8594" stroke-width="0.9" />
<line x1="92.3" y1="620.86" x2="365.2" y2="620.86" stroke="#7a8594" stroke-width="0.9" />
<line x1="92.3" y1="639.02" x2="365.2" y2="639.02" stroke="#7a8594" stroke-width="0.9" />
<line x1="92.3" y1="657.18" x2="365.2" y2="657.18" stroke="#7a8594" stroke-width="0.9" />
<line x1="92.3" y1="675.34" x2="365.2" y2="675.34" stroke="#7a8594" stroke-width="0.9" />
<line x1="92.7" y1="511.5" x2="92.7" y2="675.74" stroke="#7a8594" stroke-width="0.9" />
<line x1="110.84" y1="511.5" x2="110.84" y2="675.74" stroke="#7a8594" stroke-width="0.9" />
<line x1="128.98" y1="511.5" x2="128.98" y2="675.74" stroke="#7a8594" stroke-width="0.9" />
<line x1="147.12" y1="511.5" x2="147.12" y2="675.74" stroke="#7a8594" stroke-width="0.9" />
<line x1="165.26" y1="511.5" x2="165.26" y2="675.74" stroke="#7a8594" stroke-width="0.9" />
<line x1="183.4" y1="511.5" x2="183.4" y2="675.74" stroke="#7a8594" stroke-width="0.9" />
<line x1="201.54" y1="511.5" x2="201.54" y2="675.74" stroke="#7a8594" stroke-width="0.9" />
<line x1="219.68" y1="511.5" x2="219.68" y2="675.74" stroke="#7a8594" stroke-width="0.9" />
<line x1="237.82" y1="511.5" x2="237.82" y2="675.74" stroke="#7a8594" stroke-width="0.9" />
<line x1="255.96" y1="511.5" x2="255.96" y2="675.74" stroke="#7a8594" stroke-width="0.9" />
<line x1="274.1" y1="511.5" x2="274.1" y2="675.74" stroke="#7a8594" stroke-width="0.9" />
<line x1="292.24" y1="511.5" x2="292.24" y2="675.74" stroke="#7a8594" stroke-width="0.9" />
<line x1="310.38" y1="511.5" x2="310.38" y2="675.74" stroke="#7a8594" stroke-width="0.9" />
<line x1="328.52" y1="511.5" x2="328.52" y2="675.74" stroke="#7a8594" stroke-width="0.9" />
<line x1="346.66" y1="511.5" x2="346.66" y2="675.74" stroke="#7a8594" stroke-width="0.9" />
<line x1="364.8" y1="511.5" x2="364.8" y2="675.74" stroke="#7a8594" stroke-width="0.9" />
<circle cx="101.77" cy="520.98" r="3" fill="#c41230" />
<circle cx="119.91" cy="520.98" r="4.9" fill="#c41230" />
<circle cx="138.05" cy="520.98" r="2.5" fill="#c41230" />
<circle cx="156.19" cy="520.98" r="1.9" fill="#c41230" />
<circle cx="174.33" cy="520.98" r="1.9" fill="#c41230" />
<circle cx="192.47" cy="520.98" r="2.3" fill="#c41230" />
<circle cx="228.75" cy="520.98" r="4.6" fill="#c41230" />
<circle cx="246.89" cy="520.98" r="1.6" fill="#c41230" />
<circle cx="337.59" cy="520.98" r="2.6" fill="#c41230" />
<circle cx="101.77" cy="539.14" r="1.7" fill="#c41230" />
<circle cx="119.91" cy="539.14" r="2.75" fill="#c41230" />
<circle cx="192.47" cy="539.14" r="1.7" fill="#c41230" />
<circle cx="265.03" cy="539.14" r="2.9" fill="#c41230" />
<circle cx="101.77" cy="557.3" r="3.3" fill="#c41230" />
<circle cx="119.91" cy="557.3" r="4.4" fill="#c41230" />
<circle cx="138.05" cy="557.3" r="3" fill="#c41230" />
<circle cx="156.19" cy="557.3" r="2.5" fill="#c41230" />
<circle cx="192.47" cy="557.3" r="3.2" fill="#c41230" />
<circle cx="210.61" cy="557.3" r="3.3" fill="#c41230" />
<circle cx="228.75" cy="557.3" r="8" fill="#c41230" />
<circle cx="246.89" cy="557.3" r="3.8" fill="#c41230" />
<circle cx="265.03" cy="557.3" r="2.9" fill="#c41230" />
<circle cx="301.31" cy="557.3" r="6.2" fill="#c41230" />
<circle cx="337.59" cy="557.3" r="3.3" fill="#c41230" />
<circle cx="101.77" cy="575.46" r="4" fill="#c41230" />
<circle cx="119.91" cy="575.46" r="3.8" fill="#c41230" />
<circle cx="138.05" cy="575.46" r="3.4" fill="#c41230" />
<circle cx="156.19" cy="575.46" r="2.5" fill="#c41230" />
<circle cx="174.33" cy="575.46" r="2.5" fill="#c41230" />
<circle cx="192.47" cy="575.46" r="2.75" fill="#c41230" />
<circle cx="210.61" cy="575.46" r="3.4" fill="#c41230" />
<circle cx="228.75" cy="575.46" r="3.8" fill="#c41230" />
<circle cx="246.89" cy="575.46" r="2.6" fill="#c41230" />
<circle cx="283.17" cy="575.46" r="3.5" fill="#c41230" />
<circle cx="337.59" cy="575.46" r="3.5" fill="#c41230" />
<circle cx="355.73" cy="575.46" r="2.8" fill="#c41230" />
<circle cx="119.91" cy="593.62" r="2.3" fill="#c41230" />
<circle cx="210.61" cy="593.62" r="3.5" fill="#c41230" />
<circle cx="228.75" cy="593.62" r="6.2" fill="#c41230" />
<circle cx="265.03" cy="593.62" r="4.5" fill="#c41230" />
<circle cx="301.31" cy="593.62" r="4.7" fill="#c41230" />
<circle cx="319.45" cy="593.62" r="4.3" fill="#c41230" />
<circle cx="337.59" cy="593.62" r="3.3" fill="#c41230" />
<circle cx="355.73" cy="593.62" r="3.3" fill="#c41230" />
<circle cx="101.77" cy="666.26" r="4.2" fill="#c41230" />
<circle cx="119.91" cy="666.26" r="4.2" fill="#c41230" />
<circle cx="138.05" cy="666.26" r="5.1" fill="#c41230" />
<circle cx="156.19" cy="666.26" r="4.2" fill="#c41230" />
<circle cx="192.47" cy="666.26" r="4.2" fill="#c41230" />
<circle cx="210.61" cy="666.26" r="5.4" fill="#c41230" />
<circle cx="228.75" cy="666.26" r="4.2" fill="#c41230" />
<circle cx="246.89" cy="666.26" r="4.5" fill="#c41230" />
<circle cx="265.03" cy="666.26" r="4.8" fill="#c41230" />
<circle cx="283.17" cy="666.26" r="2.4" fill="#c41230" />
<circle cx="301.31" cy="666.26" r="4" fill="#c41230" />
<circle cx="319.45" cy="666.26" r="2.8" fill="#c41230" />
<circle cx="337.59" cy="666.26" r="2.8" fill="#c41230" />
<circle cx="355.73" cy="666.26" r="4.5" fill="#c41230" />
<circle cx="101.77" cy="611.78" r="1.5" fill="#000" />
<circle cx="210.61" cy="611.78" r="1.2" fill="#000" />
<circle cx="228.75" cy="611.78" r="1.2" fill="#000" />
<circle cx="301.31" cy="611.78" r="2.1" fill="#000" />
<circle cx="319.45" cy="611.78" r="2.8" fill="#000" />
<circle cx="101.77" cy="648.1" r="3.2" fill="#000" />
<circle cx="119.91" cy="648.1" r="2.3" fill="#000" />
<circle cx="138.05" cy="648.1" r="3.2" fill="#000" />
<circle cx="156.19" cy="648.1" r="3.2" fill="#000" />
<circle cx="174.33" cy="648.1" r="3.2" fill="#000" />
<circle cx="192.47" cy="648.1" r="3.2" fill="#000" />
<circle cx="210.61" cy="648.1" r="3.3" fill="#000" />
<circle cx="228.75" cy="648.1" r="2.6" fill="#000" />
<circle cx="246.89" cy="648.1" r="3.3" fill="#000" />
<circle cx="265.03" cy="648.1" r="3.3" fill="#000" />
<circle cx="283.17" cy="648.1" r="3.3" fill="#000" />
<circle cx="301.31" cy="648.1" r="3.3" fill="#000" />
<circle cx="319.45" cy="648.1" r="3.3" fill="#000" />
<rect x="378.5" y="516.6" width="17.8" height="8" fill="#fff" stroke="#6e7888" stroke-width="0.9"/>
<text x="399.7" y="519.2" font-size="7.9" text-anchor="start" fill="#3a4252" textLength="74" lengthAdjust="spacingAndGlyphs" >Similar levels in HD vs.</text>
<text x="399.7" y="527.9" font-size="7.9" text-anchor="start" fill="#3a4252" textLength="48.5" lengthAdjust="spacingAndGlyphs" >patients at M12</text>
<rect x="378.1" y="538.6" width="18.4" height="8.1" fill="#c41230"/>
<text x="399.7" y="541" font-size="7.9" text-anchor="start" fill="#c41230" textLength="70.6" lengthAdjust="spacingAndGlyphs" >Significantly higher in</text>
<text x="399.7" y="549.7" font-size="7.9" text-anchor="start" fill="#c41230" textLength="48.5" lengthAdjust="spacingAndGlyphs" >patients at M12</text>
<rect x="378.1" y="560.2" width="18.4" height="8.1" fill="#000"/>
<text x="399.7" y="562.2" font-size="7.9" text-anchor="start" fill="#111" textLength="62.5" lengthAdjust="spacingAndGlyphs" >Significantly higher</text>
<text x="399.7" y="570.9" font-size="7.9" text-anchor="start" fill="#111" textLength="56" lengthAdjust="spacingAndGlyphs" >in healthy donors</text>
<circle cx="387.3" cy="593.4" r="1.3" fill="#fff" stroke="#222" stroke-width="0.8"/>
<line x1="387.3" y1="594.7" x2="387.3" y2="602.9" stroke="#222" stroke-width="0.8" />
<circle cx="387.3" cy="610.7" r="7.7" fill="#fff" stroke="#222" stroke-width="0.8"/>
<text x="399.7" y="597" font-size="7.9" text-anchor="start" fill="#111" textLength="49.6" lengthAdjust="spacingAndGlyphs" >10% difference</text>
<text x="400.3" y="613.4" font-size="7.9" text-anchor="start" fill="#111" textLength="58.5" lengthAdjust="spacingAndGlyphs" >&gt;200% difference</text>
<rect x="0.5" y="0.5" width="519" height="681" fill="none" stroke="#000" stroke-width="1.1"/>
</svg>
</body></html>
